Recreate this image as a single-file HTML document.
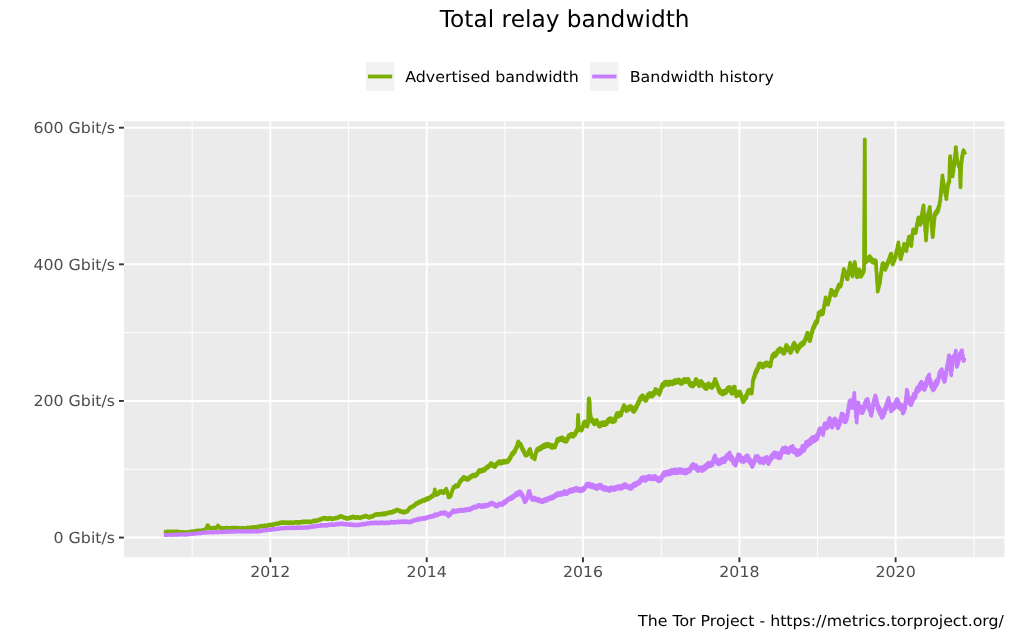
<!DOCTYPE html>
<html lang="en"><head><meta charset="utf-8"><title>Total relay bandwidth</title>
<style>html,body{margin:0;padding:0;background:#fff;overflow:hidden}svg{display:block}text{font-family:"DejaVu Sans","Liberation Sans",sans-serif;text-rendering:geometricPrecision}</style></head><body>
<svg width="1024" height="640" viewBox="0 0 1024 640">
<rect width="1024" height="640" fill="#ffffff"/>
<text x="564.7" y="27" font-size="23.47" text-anchor="middle" textLength="249.7" lengthAdjust="spacingAndGlyphs" fill="#000">Total relay bandwidth</text>
<rect x="365.8" y="62.1" width="28.6" height="28.8" fill="#f2f2f2"/>
<line x1="367.9" x2="392.2" y1="76.5" y2="76.5" stroke="#7cae00" stroke-width="3.8"/>
<text x="405.2" y="82" font-size="15.1" textLength="173.7" lengthAdjust="spacingAndGlyphs" fill="#000">Advertised bandwidth</text>
<rect x="590" y="62.1" width="28.6" height="28.8" fill="#f2f2f2"/>
<line x1="592.2" x2="616.5" y1="76.5" y2="76.5" stroke="#c77cff" stroke-width="3.8"/>
<text x="629.7" y="82" font-size="15.1" textLength="144.3" lengthAdjust="spacingAndGlyphs" fill="#000">Bandwidth history</text>
<rect x="123.9" y="121.2" width="880.6" height="436.1" fill="#ebebeb"/>
<g stroke="#ffffff" stroke-width="0.95">
<line x1="123.9" x2="1004.5" y1="469.24" y2="469.24"/>
<line x1="123.9" x2="1004.5" y1="332.62" y2="332.62"/>
<line x1="123.9" x2="1004.5" y1="196.01" y2="196.01"/>
<line y1="121.2" y2="557.3" x1="192.19" x2="192.19"/>
<line y1="121.2" y2="557.3" x1="348.62" x2="348.62"/>
<line y1="121.2" y2="557.3" x1="504.84" x2="504.84"/>
<line y1="121.2" y2="557.3" x1="661.28" x2="661.28"/>
<line y1="121.2" y2="557.3" x1="817.50" x2="817.50"/>
<line y1="121.2" y2="557.3" x1="973.93" x2="973.93"/>
</g><g stroke="#ffffff" stroke-width="1.9">
<line x1="123.9" x2="1004.5" y1="537.55" y2="537.55"/>
<line x1="123.9" x2="1004.5" y1="400.93" y2="400.93"/>
<line x1="123.9" x2="1004.5" y1="264.32" y2="264.32"/>
<line x1="123.9" x2="1004.5" y1="127.70" y2="127.70"/>
<line y1="121.2" y2="557.3" x1="270.30" x2="270.30"/>
<line y1="121.2" y2="557.3" x1="426.73" x2="426.73"/>
<line y1="121.2" y2="557.3" x1="582.95" x2="582.95"/>
<line y1="121.2" y2="557.3" x1="739.39" x2="739.39"/>
<line y1="121.2" y2="557.3" x1="895.61" x2="895.61"/>
</g>
<g fill="none" stroke-width="3.8" stroke-linejoin="round" stroke-linecap="butt">
<polyline stroke="#7cae00" points="163.8,531.9 163.8,531.9 164.1,531.9 164.4,531.9 164.8,531.9 165.1,531.9 165.5,531.8 165.8,532.1 166.2,531.6 166.5,532.0 166.9,531.5 167.2,532.1 167.6,531.6 167.9,532.2 168.3,531.7 168.6,532.2 169.0,531.6 169.3,532.0 169.7,531.5 170.0,532.0 170.4,531.6 170.7,532.2 171.1,531.6 171.4,532.2 171.8,531.7 172.1,532.3 172.5,531.6 172.8,532.1 173.2,531.7 173.5,532.2 173.9,531.6 174.2,532.2 174.6,531.7 174.9,532.2 175.3,531.6 175.6,531.9 175.6,532.1 176.0,531.6 176.3,532.2 176.7,531.6 177.0,532.1 177.4,531.6 177.7,532.3 178.1,531.7 178.4,532.3 178.8,531.8 179.1,532.4 179.5,532.0 179.8,532.6 180.2,532.1 180.5,532.6 180.9,532.1 181.2,532.5 181.6,532.0 181.9,532.5 182.3,532.1 182.6,532.6 183.0,532.2 183.3,532.7 183.7,532.2 184.0,532.7 184.4,532.1 184.7,532.6 185.1,532.2 185.4,532.8 185.8,532.4 185.8,532.5 186.1,532.8 186.5,532.3 186.8,532.8 187.2,532.2 187.5,532.7 187.9,532.0 188.2,532.5 188.6,531.9 188.9,532.3 189.3,531.7 189.6,532.2 190.0,531.7 190.3,532.3 190.7,531.7 191.0,532.2 191.4,531.5 191.7,532.1 192.1,531.4 192.4,532.0 192.8,531.4 192.8,531.6 193.1,531.9 193.5,531.3 193.8,531.9 194.2,531.2 194.5,531.7 194.9,531.0 195.2,531.4 195.6,530.8 195.9,531.4 196.3,530.8 196.6,531.2 197.0,530.7 197.3,531.2 197.7,530.6 198.0,531.0 198.4,530.5 198.7,531.0 199.1,530.5 199.4,531.1 199.8,530.5 200.1,531.1 200.5,530.5 200.8,530.9 201.2,530.4 201.5,531.0 201.9,530.2 202.2,530.7 202.6,530.1 202.9,530.6 203.3,530.0 203.6,530.5 203.8,530.3 204.0,529.9 204.3,530.3 204.7,529.4 205.0,529.8 205.4,529.0 205.7,529.3 206.1,528.6 206.4,528.8 206.5,528.5 206.8,527.4 207.1,527.0 207.5,525.3 207.7,525.2 207.8,525.7 208.2,525.6 208.5,526.8 208.9,526.9 209.0,527.5 209.2,527.9 209.6,527.6 209.9,528.6 210.0,528.3 210.3,528.2 210.6,528.7 211.0,528.0 211.3,528.5 211.7,527.9 212.0,528.5 212.4,527.8 212.7,528.4 213.1,527.9 213.4,528.3 213.8,527.8 214.1,528.3 214.5,527.8 214.8,528.3 215.2,527.7 215.5,528.4 215.9,527.9 216.2,528.3 216.5,528.0 216.6,527.5 216.9,527.7 217.3,526.6 217.6,526.6 218.0,525.5 218.0,526.0 218.3,526.6 218.7,526.5 219.0,527.6 219.4,527.3 219.5,527.8 219.7,528.0 220.1,527.5 220.4,528.1 220.8,527.5 221.1,528.2 221.5,527.9 221.8,528.5 222.2,528.2 222.5,528.3 222.5,528.8 222.9,528.1 223.2,528.7 223.6,528.0 223.9,528.6 224.3,528.0 224.6,528.5 225.0,527.9 225.3,528.5 225.7,527.9 226.0,528.3 226.4,527.8 226.7,528.3 227.1,527.8 227.4,528.5 227.8,528.0 228.1,528.5 228.5,527.9 228.8,528.5 229.2,528.0 229.5,528.6 229.9,527.9 230.2,528.5 230.6,527.9 230.9,528.4 231.3,527.7 231.6,528.4 232.0,527.7 232.3,528.4 232.7,527.9 233.0,528.4 233.4,527.7 233.7,528.4 234.1,527.6 234.4,528.3 234.8,527.7 235.0,528.0 235.1,528.4 235.5,527.9 235.8,528.6 236.2,527.9 236.5,528.6 236.9,527.8 237.2,528.5 237.6,527.8 237.9,528.4 238.3,528.0 238.6,528.4 239.0,527.9 239.3,528.5 239.7,528.0 240.0,528.7 240.4,528.2 240.7,528.6 241.1,528.0 241.4,528.4 241.8,527.8 242.1,528.5 242.5,528.0 242.8,528.3 242.8,528.7 243.2,528.1 243.5,528.8 243.9,528.0 244.2,528.6 244.6,528.0 244.9,528.6 245.3,528.0 245.6,528.5 246.0,527.9 246.3,528.4 246.7,527.8 247.0,528.4 247.4,527.7 247.7,528.2 248.1,527.6 248.4,528.3 248.8,527.7 249.1,528.3 249.5,527.6 249.8,528.2 250.2,527.6 250.5,528.2 250.9,527.4 251.2,527.9 251.6,527.2 251.9,527.8 252.3,527.1 252.6,527.8 253.0,527.1 253.3,527.8 253.7,527.2 253.8,527.5 254.0,527.7 254.4,527.1 254.7,527.6 255.1,526.9 255.4,527.5 255.8,526.9 256.1,527.6 256.5,527.0 256.8,527.6 257.2,526.8 257.5,527.2 257.9,526.5 258.2,527.0 258.6,526.4 258.9,526.9 259.3,526.3 259.6,526.9 260.0,526.1 260.3,526.6 260.7,526.0 261.0,526.5 261.4,525.8 261.7,526.5 262.1,525.8 262.4,526.5 262.8,525.9 263.1,526.4 263.5,525.7 263.8,526.3 264.2,525.6 264.5,526.3 264.9,525.5 265.2,526.2 265.6,525.4 265.9,526.1 266.3,525.4 266.6,526.0 267.0,525.5 267.3,526.0 267.7,525.3 268.0,525.9 268.4,525.1 268.7,525.6 269.1,524.8 269.4,525.2 269.4,525.5 269.8,524.7 270.1,525.3 270.5,524.7 270.8,525.3 271.2,524.7 271.5,525.3 271.9,524.6 272.2,525.2 272.6,524.3 272.9,524.9 273.3,524.2 273.6,524.7 274.0,524.0 274.3,524.7 274.7,524.0 275.0,524.4 275.4,523.7 275.7,524.2 276.1,523.5 276.4,524.0 276.8,523.4 277.1,524.0 277.5,523.3 277.8,523.9 278.2,523.2 278.5,523.8 278.9,523.1 279.2,523.7 279.6,522.9 279.9,523.4 280.3,522.6 280.6,523.2 281.0,522.5 281.3,523.0 281.7,522.2 281.9,522.8 282.0,523.0 282.4,522.2 282.7,523.0 283.1,522.1 283.4,523.0 283.8,522.2 284.1,522.9 284.5,522.3 284.8,523.1 285.2,522.4 285.5,523.1 285.9,522.4 286.2,523.0 286.6,522.2 286.9,522.9 287.3,522.4 287.6,523.1 288.0,522.5 288.3,523.2 288.7,522.4 289.0,523.1 289.4,522.2 289.7,522.9 290.1,522.3 290.4,523.0 290.8,522.3 291.1,523.1 291.5,522.3 291.8,523.1 292.2,522.4 292.5,523.1 292.8,522.8 292.9,522.5 293.2,523.0 293.6,522.3 293.9,522.8 294.3,522.1 294.6,522.7 295.0,522.2 295.3,522.9 295.7,522.1 296.0,522.8 296.4,522.1 296.7,522.6 297.1,521.9 297.4,522.7 297.8,522.1 298.1,522.8 298.5,522.3 298.8,523.0 299.2,522.2 299.5,522.8 299.9,522.1 300.2,522.6 300.6,521.9 300.9,522.5 301.3,521.9 301.6,522.5 302.0,521.6 302.3,522.3 302.7,521.5 303.0,522.2 303.4,521.4 303.7,522.3 304.1,521.4 304.4,522.1 304.8,521.5 305.1,522.2 305.5,521.4 305.8,522.1 306.2,521.5 306.5,522.1 306.9,521.6 307.2,522.2 307.6,521.6 307.9,522.3 308.3,521.4 308.4,521.7 308.6,522.2 309.0,521.4 309.3,522.1 309.7,521.5 310.0,521.9 310.0,522.3 310.4,521.5 310.7,522.1 311.1,521.5 311.4,522.0 311.8,521.3 312.1,521.9 312.5,521.2 312.8,521.6 313.2,520.8 313.5,521.4 313.9,520.5 314.2,521.3 314.6,520.5 314.9,521.2 315.3,520.5 315.6,521.2 316.0,520.4 316.3,521.2 316.7,520.4 317.0,521.0 317.4,520.1 317.7,520.6 318.1,519.8 318.4,520.4 318.8,519.7 319.1,520.4 319.4,520.0 319.5,519.5 319.8,520.3 320.2,519.2 320.5,519.8 320.9,519.0 321.2,519.4 321.6,518.5 321.9,519.3 322.3,518.2 322.6,519.0 323.0,518.0 323.3,518.8 323.7,517.9 324.0,518.4 324.0,518.5 324.4,517.8 324.7,518.6 325.1,517.9 325.4,518.7 325.8,518.1 326.1,519.0 326.5,518.3 326.8,519.2 327.2,518.4 327.5,519.1 327.9,518.3 328.2,519.1 328.6,518.2 328.9,518.9 329.3,518.1 329.6,518.9 330.0,518.1 330.3,518.8 330.7,518.1 331.0,519.0 331.4,518.4 331.7,519.3 332.1,518.4 332.4,519.2 332.8,518.4 333.1,519.1 333.4,518.8 333.5,518.3 333.8,518.9 334.2,518.2 334.5,518.7 334.9,517.9 335.2,518.6 335.6,517.7 335.9,518.6 336.3,517.8 336.6,518.4 337.0,517.5 337.3,518.3 337.7,517.3 338.0,518.0 338.4,517.0 338.7,517.5 339.1,516.6 339.4,517.1 339.8,516.3 340.1,517.0 340.5,516.1 340.8,516.8 341.2,516.0 341.2,516.4 341.5,516.9 341.9,516.3 342.2,517.3 342.6,516.6 342.9,517.5 343.3,517.0 343.6,517.9 344.0,517.2 344.3,518.1 344.7,517.4 345.0,518.2 345.4,517.4 345.7,518.5 346.1,517.8 346.4,518.9 346.8,518.1 347.1,519.0 347.5,518.4 347.5,518.8 347.8,518.8 348.2,518.0 348.5,518.6 348.9,517.7 349.2,518.5 349.6,517.5 349.9,518.3 350.3,517.3 350.6,518.2 351.0,517.3 351.3,518.0 351.7,517.0 352.0,517.5 352.2,517.2 352.4,516.7 352.7,517.4 353.1,516.6 353.4,517.5 353.8,516.8 354.1,517.6 354.5,517.0 354.8,517.9 355.2,517.2 355.5,518.1 355.9,517.3 356.2,518.0 356.6,517.1 356.9,517.9 357.3,517.0 357.6,517.8 358.0,517.1 358.3,517.9 358.7,517.1 359.0,518.1 359.4,517.4 359.7,518.1 360.0,518.0 360.1,517.4 360.4,518.2 360.8,517.3 361.1,517.9 361.5,516.9 361.8,517.6 362.2,516.6 362.5,517.4 362.9,516.6 363.2,517.1 363.6,516.2 363.9,517.1 364.3,516.1 364.6,516.9 365.0,515.9 365.3,516.4 365.5,516.0 365.7,515.5 366.0,516.4 366.4,515.7 366.7,516.7 367.1,516.1 367.4,517.1 367.8,516.4 368.1,517.4 368.5,516.8 368.8,517.8 369.2,517.1 369.4,517.5 369.5,517.8 369.9,516.8 370.2,517.4 370.6,516.3 370.9,517.1 371.3,516.3 371.6,516.9 372.0,516.2 372.3,516.8 372.7,515.9 373.0,516.4 373.4,515.6 373.7,516.2 374.1,515.0 374.4,515.6 374.8,514.6 375.1,515.1 375.5,514.1 375.6,514.8 375.8,515.0 376.2,514.1 376.5,514.9 376.9,514.0 377.2,514.9 377.6,514.1 377.9,515.1 378.3,514.2 378.6,514.9 379.0,513.9 379.3,514.7 379.7,513.9 380.0,514.6 380.4,513.8 380.7,514.5 381.1,513.6 381.4,514.5 381.8,513.7 382.1,514.7 382.5,513.8 382.8,514.6 383.2,513.5 383.5,514.3 383.9,513.2 384.2,513.9 384.6,513.1 384.9,514.2 385.3,513.4 385.6,514.4 386.0,513.4 386.3,514.1 386.7,513.0 387.0,513.6 387.4,512.7 387.7,513.4 388.1,512.5 388.1,513.3 388.4,513.3 388.8,512.3 389.1,513.1 389.5,512.2 389.8,512.9 390.2,512.1 390.5,512.8 390.9,512.0 391.2,512.8 391.6,512.0 391.9,512.7 392.3,511.7 392.6,512.4 393.0,511.3 393.3,512.0 393.7,511.1 394.0,511.9 394.4,510.9 394.7,511.7 395.1,510.5 395.4,511.2 395.8,510.2 396.1,510.8 396.5,509.8 396.8,510.7 397.2,509.7 397.5,510.2 397.5,510.5 397.9,509.8 398.2,510.8 398.6,510.0 398.9,511.1 399.3,510.3 399.6,511.5 400.0,510.5 400.3,511.7 400.7,511.1 401.0,512.0 401.4,511.0 401.7,512.1 402.1,511.2 402.4,512.3 402.8,511.5 403.1,512.6 403.5,511.8 403.8,512.2 403.8,512.9 404.2,511.8 404.5,512.6 404.9,511.6 405.2,512.3 405.6,511.3 405.9,512.2 406.3,511.1 406.6,511.7 407.0,510.8 407.3,511.6 407.7,510.5 407.7,511.2 408.0,511.0 408.4,509.6 408.7,509.9 409.1,508.6 409.4,509.0 409.8,507.6 410.0,507.8 410.1,508.2 410.5,507.1 410.8,508.0 411.2,506.8 411.5,507.6 411.9,506.4 412.2,507.2 412.6,506.1 412.9,506.8 413.3,505.6 413.6,506.5 414.0,505.2 414.3,506.0 414.7,504.6 415.0,505.3 415.4,504.0 415.7,504.6 416.1,503.3 416.4,504.3 416.8,503.0 417.1,503.9 417.5,502.7 417.8,503.7 418.2,502.4 418.5,503.2 418.9,501.8 419.2,502.8 419.4,502.1 419.6,501.6 419.9,502.6 420.3,501.3 420.6,502.2 421.0,500.9 421.3,502.0 421.7,500.6 422.0,501.6 422.4,500.3 422.7,501.3 423.1,499.9 423.4,500.8 423.8,499.6 424.1,500.7 424.5,499.6 424.8,500.9 425.0,500.0 425.2,499.4 425.5,500.1 425.9,498.7 426.2,499.6 426.6,498.6 426.9,499.7 427.3,498.3 427.5,498.8 427.6,499.6 428.0,498.2 428.3,499.3 428.7,497.9 429.0,498.9 429.4,497.6 429.7,498.4 430.0,497.5 430.1,497.0 430.4,498.0 430.8,496.7 431.1,497.4 431.5,496.2 431.8,497.1 432.2,495.5 432.5,496.7 432.9,495.2 433.1,495.6 433.2,496.2 433.6,494.4 433.9,495.2 434.2,494.0 434.3,492.7 434.6,491.0 434.8,489.4 435.0,490.9 435.3,494.0 435.3,494.5 435.7,493.7 436.0,494.4 436.0,495.1 436.4,493.8 436.7,494.9 437.1,493.3 437.4,494.5 437.8,492.9 438.1,494.2 438.5,492.6 438.8,493.6 439.2,491.9 439.5,492.8 439.9,491.2 440.2,492.4 440.6,491.0 440.6,491.9 440.9,492.3 441.3,491.1 441.6,492.5 442.0,491.3 442.3,492.6 442.7,491.5 443.0,492.8 443.4,491.5 443.7,493.1 443.8,492.5 444.1,491.4 444.4,492.2 444.8,490.4 445.1,491.4 445.5,489.6 445.8,490.5 446.2,488.7 446.2,489.4 446.5,490.8 446.9,490.4 447.2,492.4 447.6,492.5 447.9,495.1 448.3,495.0 448.6,497.4 448.8,496.9 449.0,496.4 449.3,497.2 449.7,496.0 450.0,496.9 450.4,495.4 450.6,496.2 450.7,496.2 451.1,493.9 451.4,494.0 451.8,491.7 452.1,491.7 452.5,489.4 452.8,489.5 453.1,488.1 453.2,487.4 453.5,488.4 453.9,486.7 454.2,487.8 454.6,486.1 454.9,487.1 455.3,485.7 455.6,486.2 455.6,486.8 456.0,485.3 456.3,486.7 456.7,485.4 457.0,486.7 457.4,485.3 457.7,486.5 458.1,485.2 458.1,486.2 458.4,485.7 458.8,483.4 459.1,484.2 459.5,482.0 459.8,482.8 460.2,480.7 460.5,481.4 460.6,480.6 460.9,479.8 461.2,481.1 461.6,479.1 461.9,480.4 462.3,478.7 462.6,479.7 463.0,477.6 463.3,479.1 463.7,476.9 463.8,478.1 464.0,478.4 464.4,477.1 464.7,478.9 465.1,477.5 465.4,479.1 465.8,477.7 466.1,479.5 466.5,477.9 466.8,479.7 467.2,478.3 467.5,479.4 467.5,480.0 467.9,478.4 468.2,479.8 468.6,478.1 468.9,479.1 469.3,477.2 469.6,478.2 470.0,476.5 470.3,477.7 470.7,476.2 471.0,477.6 471.4,475.7 471.7,477.0 472.1,475.3 472.4,476.6 472.5,475.6 472.8,474.9 473.1,476.5 473.5,474.8 473.8,476.3 474.2,474.8 474.5,476.3 474.9,474.7 475.2,476.1 475.6,474.6 475.6,475.6 475.9,475.8 476.3,473.9 476.6,475.4 477.0,473.4 477.3,474.7 477.7,472.3 478.0,473.5 478.4,471.2 478.7,472.1 478.8,471.2 479.1,470.2 479.4,471.8 479.8,470.1 480.1,471.9 480.5,470.1 480.8,471.8 481.2,469.9 481.5,471.3 481.9,469.7 482.2,471.1 482.6,469.5 482.9,471.1 483.3,469.1 483.6,471.0 484.0,469.0 484.3,470.7 484.7,468.7 485.0,469.4 485.0,470.2 485.4,468.1 485.7,469.2 486.1,467.3 486.4,468.5 486.8,466.6 487.1,468.2 487.5,466.3 487.8,467.9 488.2,465.8 488.5,467.3 488.9,465.4 489.2,466.6 489.6,464.7 489.9,465.8 490.3,464.0 490.6,465.3 491.0,463.0 491.2,464.4 491.3,464.8 491.7,463.4 492.0,465.6 492.4,463.9 492.7,465.9 493.1,464.6 493.4,466.4 493.8,464.7 494.1,466.9 494.4,466.5 494.5,465.5 494.8,467.1 495.2,465.5 495.5,466.5 495.9,464.5 496.2,465.7 496.6,463.3 496.9,464.6 497.3,462.8 497.6,463.9 498.0,462.1 498.3,463.5 498.7,461.3 498.8,462.5 499.0,463.1 499.4,461.4 499.7,463.5 500.1,461.4 500.4,463.6 500.8,461.5 501.1,463.5 501.5,461.9 501.8,463.3 502.2,461.3 502.5,463.1 502.9,461.0 503.2,462.8 503.6,460.9 503.8,462.5 503.9,462.8 504.3,460.7 504.6,462.6 505.0,461.0 505.3,462.7 505.7,461.0 506.0,462.6 506.4,460.7 506.7,462.3 507.1,460.7 507.4,462.3 507.8,460.2 508.1,460.6 508.1,461.7 508.5,459.2 508.8,460.6 509.2,458.5 509.5,460.0 509.9,457.2 510.2,459.1 510.6,456.3 510.9,457.4 511.3,454.7 511.6,455.8 512.0,453.1 512.3,454.9 512.7,452.6 513.0,454.3 513.1,453.1 513.4,451.9 513.7,453.5 514.1,450.9 514.4,452.9 514.8,450.1 515.1,451.5 515.5,448.7 515.8,449.6 516.2,447.0 516.5,448.3 516.9,445.8 516.9,447.5 517.2,446.7 517.6,443.1 517.9,444.0 518.1,442.5 518.3,441.3 518.6,443.8 519.0,442.5 519.3,444.7 519.7,443.1 520.0,444.4 520.0,445.2 520.4,443.7 520.7,446.4 521.1,444.9 521.4,447.8 521.8,446.2 521.9,447.5 522.1,449.4 522.5,448.3 522.8,450.9 523.2,449.2 523.5,452.1 523.9,450.4 524.2,453.3 524.6,452.5 524.9,455.1 525.0,455.0 525.3,453.4 525.6,455.5 526.0,453.6 526.3,455.4 526.7,453.7 527.0,455.5 527.4,453.2 527.5,453.8 527.7,454.7 528.1,452.3 528.4,453.5 528.8,450.6 529.1,452.5 529.5,449.4 529.8,451.1 530.0,448.8 530.2,449.3 530.5,452.8 530.9,452.0 531.2,455.2 531.6,454.2 531.9,456.2 531.9,457.4 532.3,455.6 532.6,457.6 533.0,455.6 533.3,458.0 533.7,456.2 534.0,458.4 534.4,456.9 534.7,459.3 534.8,458.8 535.1,456.0 535.4,456.0 535.8,452.6 536.1,453.6 536.5,450.3 536.8,451.0 536.9,450.0 537.2,448.9 537.5,451.0 537.9,448.7 538.2,450.4 538.6,448.3 538.9,450.2 539.3,447.7 539.6,449.9 540.0,447.2 540.0,448.1 540.3,449.1 540.7,446.9 541.0,449.0 541.4,446.5 541.7,448.7 542.1,446.0 542.4,448.0 542.8,445.6 543.1,447.0 543.5,444.9 543.8,447.0 544.2,445.3 544.5,447.2 544.9,444.9 545.0,445.6 545.2,447.0 545.6,444.2 545.9,446.3 546.3,443.9 546.6,446.1 547.0,443.8 547.3,445.7 547.7,443.6 548.0,446.3 548.4,444.0 548.7,446.2 549.1,444.2 549.4,446.3 549.8,444.6 550.0,445.6 550.1,446.9 550.5,444.7 550.8,447.2 551.2,445.1 551.5,447.7 551.9,445.5 552.2,448.0 552.6,445.9 552.9,447.7 553.3,445.2 553.6,446.8 554.0,444.9 554.3,447.0 554.7,445.4 555.0,446.9 555.0,447.6 555.4,444.7 555.7,445.5 556.1,442.7 556.4,444.0 556.8,440.5 557.1,441.9 557.5,438.8 557.5,440.6 557.8,441.2 558.2,438.9 558.5,441.0 558.9,438.6 559.2,440.4 559.6,438.1 559.9,440.1 560.3,437.8 560.6,440.2 561.0,437.9 561.2,438.8 561.3,440.2 561.7,437.5 562.0,440.1 562.4,437.5 562.7,439.7 563.1,438.1 563.4,440.6 563.8,438.6 564.1,441.3 564.5,439.1 564.8,441.6 565.2,439.1 565.5,441.6 565.9,439.5 566.2,441.9 566.2,440.0 566.6,438.9 566.9,441.2 567.3,438.4 567.6,439.6 568.0,436.8 568.3,438.3 568.7,435.1 569.0,437.4 569.4,434.6 569.7,436.9 570.0,435.6 570.1,434.7 570.4,436.5 570.8,434.3 571.1,436.2 571.5,433.6 571.8,436.2 572.2,433.9 572.5,436.6 572.9,434.7 573.2,436.9 573.6,434.3 573.9,436.1 574.3,433.7 574.6,435.5 575.0,432.8 575.0,435.0 575.3,434.5 575.7,431.4 576.0,433.3 576.4,430.1 576.7,432.3 576.9,431.2 577.1,428.9 577.4,430.2 577.6,429.0 577.8,421.8 578.1,415.0 578.1,417.5 578.5,422.3 578.7,428.0 578.8,429.4 579.2,426.8 579.4,428.8 579.5,429.7 579.9,427.3 580.2,430.3 580.6,428.0 580.9,430.5 581.3,428.1 581.6,430.7 581.9,430.0 582.0,427.6 582.3,429.1 582.7,426.0 583.0,427.4 583.4,423.6 583.7,425.6 584.1,421.9 584.4,423.1 584.4,424.1 584.8,421.5 585.1,424.2 585.5,422.4 585.8,425.3 586.2,423.1 586.5,426.4 586.9,423.8 587.2,426.6 587.5,425.0 587.6,423.7 587.9,424.4 588.2,423.0 588.3,416.5 588.6,402.7 588.7,399.6 589.0,398.4 589.3,401.9 589.5,400.5 589.7,403.2 590.0,413.1 590.2,414.0 590.4,414.1 590.7,418.3 591.1,417.4 591.2,420.0 591.4,421.1 591.8,418.6 592.1,421.8 592.5,419.6 592.8,422.4 593.2,420.2 593.5,423.2 593.9,421.2 594.2,424.3 594.4,424.4 594.6,421.8 594.9,423.9 595.3,420.6 595.6,422.8 596.0,420.3 596.3,422.6 596.5,421.2 596.7,419.8 597.0,423.0 597.4,421.4 597.7,424.1 598.1,422.5 598.4,425.3 598.8,423.2 599.1,426.7 599.4,425.0 599.5,424.1 599.8,426.6 600.2,423.7 600.5,426.2 600.9,423.4 601.2,425.5 601.6,422.5 601.9,425.1 602.3,422.5 602.6,424.9 603.0,422.2 603.3,424.9 603.7,422.5 604.0,425.2 604.4,422.7 604.7,424.9 605.0,423.1 605.1,422.2 605.4,425.0 605.8,422.0 606.1,424.4 606.5,421.5 606.8,423.9 607.2,420.8 607.5,422.6 607.9,419.7 608.2,422.2 608.6,419.1 608.9,421.4 609.3,418.5 609.6,421.0 610.0,418.4 610.3,420.5 610.7,418.2 611.0,420.5 611.2,420.0 611.4,418.5 611.7,421.7 612.1,419.3 612.4,422.3 612.8,419.8 613.1,422.1 613.5,419.3 613.8,421.7 614.2,419.7 614.4,421.2 614.5,421.7 614.9,418.3 615.2,420.7 615.6,416.4 615.9,418.3 616.3,414.5 616.6,416.4 616.9,415.0 617.0,413.0 617.3,416.1 617.7,413.6 618.0,416.8 618.4,414.2 618.7,416.4 619.1,413.4 619.4,415.9 619.8,412.5 620.1,415.4 620.5,412.7 620.8,415.5 621.2,412.4 621.2,413.8 621.5,414.1 621.9,410.1 622.2,411.8 622.6,408.2 622.9,409.6 623.3,406.1 623.6,407.5 623.8,406.2 624.0,405.0 624.3,408.7 624.7,406.2 625.0,409.5 625.4,406.9 625.7,410.1 626.1,407.7 626.2,410.6 626.4,411.2 626.8,408.3 627.1,410.5 627.5,408.0 627.8,410.5 628.2,407.4 628.5,409.8 628.9,407.0 629.2,408.9 629.6,406.1 629.9,408.2 630.0,407.5 630.3,406.0 630.6,408.8 631.0,406.4 631.3,409.2 631.7,406.6 632.0,409.8 632.4,407.5 632.7,411.0 633.1,408.5 633.4,411.9 633.8,410.6 633.8,409.5 634.1,411.8 634.5,408.2 634.8,410.9 635.2,407.3 635.5,409.8 635.9,406.4 636.2,408.5 636.6,405.1 636.9,407.2 637.3,404.0 637.5,404.4 637.6,405.4 638.0,402.0 638.3,404.3 638.7,401.1 639.0,402.9 639.4,399.2 639.7,401.3 640.0,399.4 640.1,397.5 640.4,399.8 640.8,397.1 641.1,399.6 641.5,396.1 641.8,398.7 642.2,395.4 642.5,397.5 642.5,398.4 642.9,395.3 643.2,398.9 643.6,396.3 643.9,398.8 644.3,397.2 644.6,399.8 645.0,397.6 645.3,400.8 645.6,399.4 645.7,398.2 646.0,400.8 646.4,397.5 646.7,399.7 647.1,396.4 647.4,398.1 647.8,394.5 648.1,396.9 648.5,393.9 648.8,396.0 649.2,393.1 649.4,394.4 649.5,395.2 649.9,392.8 650.2,396.2 650.6,393.7 650.9,396.7 651.3,394.1 651.6,396.4 652.0,393.4 652.3,396.7 652.5,395.6 652.7,393.1 653.0,395.7 653.4,392.2 653.7,394.9 654.1,391.9 654.4,394.2 654.8,390.6 655.1,392.7 655.5,388.8 655.6,390.0 655.8,392.0 656.2,389.4 656.5,392.0 656.9,390.0 657.2,392.7 657.6,390.3 657.9,393.5 658.3,390.5 658.6,393.6 659.0,391.2 659.3,394.8 659.4,392.5 659.7,390.9 660.0,393.0 660.4,390.0 660.7,391.0 661.1,387.7 661.4,388.9 661.8,385.6 662.1,387.4 662.5,383.8 662.5,385.0 662.8,386.7 663.2,384.1 663.5,386.3 663.9,383.0 664.2,385.1 664.6,382.0 664.9,384.9 665.3,381.6 665.6,384.7 666.0,381.6 666.2,382.5 666.3,384.2 666.7,382.0 667.0,384.4 667.4,381.8 667.7,384.8 668.1,381.9 668.4,385.1 668.8,381.7 669.1,384.4 669.5,381.5 669.8,384.4 670.2,381.7 670.5,383.9 670.9,381.6 671.2,384.2 671.2,383.1 671.6,381.9 671.9,384.1 672.3,381.9 672.6,384.3 673.0,381.1 673.3,383.9 673.7,380.9 674.0,383.4 674.4,380.8 674.7,383.1 675.1,380.0 675.4,383.2 675.8,380.6 676.1,382.8 676.5,380.5 676.8,382.7 677.2,380.3 677.5,381.2 677.5,382.3 677.9,379.7 678.2,381.8 678.6,379.4 678.9,382.2 679.3,380.0 679.6,382.9 680.0,380.4 680.3,383.5 680.7,380.9 681.0,384.0 681.4,381.4 681.7,383.6 682.1,381.0 682.4,383.5 682.5,381.9 682.8,379.9 683.1,382.9 683.5,379.8 683.8,382.4 684.2,378.8 684.5,381.6 684.9,379.2 685.2,381.8 685.6,379.2 685.9,381.7 686.3,379.3 686.6,382.1 687.0,379.1 687.3,382.2 687.7,378.9 688.0,381.5 688.1,379.4 688.4,379.1 688.7,382.6 689.1,380.7 689.4,384.3 689.8,382.2 690.1,385.3 690.5,383.3 690.6,384.4 690.8,386.0 691.2,383.0 691.5,385.7 691.9,383.4 692.2,386.3 692.5,386.2 692.6,383.8 692.9,386.5 693.3,383.2 693.6,385.7 694.0,382.6 694.3,384.6 694.7,382.2 695.0,384.0 695.4,379.6 695.6,380.6 695.7,381.8 696.1,378.8 696.4,382.3 696.8,379.9 697.1,383.1 697.5,380.9 697.8,384.0 698.2,382.3 698.5,385.1 698.9,383.4 699.2,386.4 699.4,384.4 699.6,383.1 699.9,385.0 700.3,381.5 700.6,383.5 701.0,380.9 701.2,382.5 701.3,383.5 701.7,381.8 702.0,384.8 702.4,382.7 702.7,385.7 703.1,383.5 703.4,386.5 703.8,384.7 704.1,387.4 704.5,384.7 704.8,388.2 705.2,385.7 705.5,388.7 705.6,388.1 705.9,386.1 706.2,389.2 706.6,385.9 706.9,388.5 707.3,384.7 707.6,387.1 708.0,383.4 708.1,385.0 708.3,385.8 708.7,383.4 709.0,386.6 709.4,384.0 709.7,387.1 710.1,384.3 710.4,387.4 710.8,384.6 711.1,387.6 711.5,385.3 711.8,388.1 712.2,384.9 712.5,386.2 712.5,387.5 712.9,384.1 713.2,386.4 713.6,382.9 713.9,384.3 714.3,381.0 714.6,382.5 715.0,378.8 715.0,380.6 715.3,382.3 715.7,379.9 716.0,383.3 716.4,382.0 716.7,385.4 717.1,383.6 717.4,386.9 717.5,386.2 717.8,385.5 718.1,389.1 718.5,387.5 718.8,391.1 719.2,388.5 719.5,392.5 719.9,390.0 720.0,391.9 720.2,393.0 720.6,390.4 720.9,393.3 721.3,391.0 721.6,393.9 722.0,391.1 722.3,394.3 722.7,391.7 723.0,394.5 723.4,391.3 723.7,393.7 724.1,391.0 724.4,393.5 724.8,390.3 725.0,392.5 725.1,393.2 725.5,390.4 725.8,393.2 726.2,390.2 726.5,392.2 726.9,389.4 727.2,391.4 727.6,387.6 727.9,390.0 728.3,387.4 728.6,389.8 729.0,387.1 729.3,389.1 729.4,386.9 729.7,387.1 730.0,390.4 730.4,388.1 730.7,391.8 731.1,389.4 731.4,393.4 731.8,391.4 731.9,392.5 732.1,393.8 732.5,390.0 732.8,391.9 733.2,388.2 733.5,390.1 733.9,386.7 734.2,388.8 734.4,386.9 734.6,386.7 734.9,390.7 735.3,389.8 735.6,394.3 736.0,392.8 736.2,395.6 736.3,396.4 736.7,393.3 737.0,395.9 737.4,392.6 737.7,395.3 738.1,392.5 738.4,394.6 738.8,391.7 739.1,394.7 739.5,391.5 739.8,394.2 740.0,393.1 740.2,391.9 740.5,395.7 740.9,393.7 741.2,397.2 741.6,395.6 741.9,399.0 742.3,397.1 742.6,401.3 743.0,399.6 743.1,401.9 743.3,402.2 743.7,399.0 744.0,401.3 744.4,398.1 744.7,400.2 745.1,396.8 745.4,398.7 745.8,395.3 746.1,398.4 746.2,396.9 746.5,394.6 746.8,396.4 747.2,392.7 747.5,392.5 747.5,394.5 747.9,391.0 748.2,393.2 748.6,390.0 748.9,392.6 749.3,390.0 749.6,392.9 750.0,389.9 750.3,392.8 750.7,390.2 751.0,393.6 751.4,390.7 751.7,393.5 751.9,391.9 752.1,389.3 752.4,387.9 752.8,382.2 753.1,379.4 753.1,381.3 753.5,377.7 753.8,379.1 754.2,375.8 754.5,377.5 754.9,373.2 755.2,375.4 755.6,371.4 755.9,373.3 756.2,372.5 756.3,369.7 756.6,372.0 757.0,368.7 757.3,371.2 757.7,367.5 758.0,369.3 758.4,365.1 758.7,366.8 758.8,365.0 759.1,363.8 759.4,366.7 759.8,363.4 760.0,365.0 760.1,366.0 760.5,363.5 760.8,366.4 761.2,363.9 761.5,366.7 761.9,364.6 762.2,367.3 762.5,366.2 762.6,365.0 762.9,367.6 763.3,364.5 763.6,366.7 764.0,363.8 764.3,366.3 764.7,363.1 765.0,365.6 765.4,362.7 765.7,365.7 766.1,363.0 766.4,365.7 766.8,362.3 766.9,363.1 767.1,365.2 767.5,362.8 767.8,365.5 768.2,362.9 768.5,365.8 768.9,363.3 769.2,366.0 769.6,363.4 769.9,366.6 770.3,363.4 770.6,364.4 770.6,366.0 771.0,361.1 771.3,362.1 771.7,357.7 772.0,358.8 772.4,355.1 772.5,355.0 772.7,357.6 773.1,354.3 773.4,356.8 773.8,353.5 774.1,356.2 774.5,353.6 774.8,356.3 775.2,353.0 775.5,356.1 775.6,354.4 775.9,352.6 776.2,355.0 776.6,351.8 776.9,354.0 777.3,350.8 777.6,352.9 778.0,349.6 778.3,351.7 778.7,349.1 778.8,349.4 779.0,351.1 779.4,348.9 779.7,351.2 780.1,348.2 780.4,351.0 780.8,348.7 781.1,351.7 781.5,349.2 781.8,351.9 782.2,349.9 782.5,352.5 782.9,350.2 783.2,353.6 783.6,350.9 783.9,353.8 784.3,351.3 784.4,351.9 784.6,353.1 785.0,348.6 785.3,350.5 785.7,346.6 786.0,348.0 786.2,345.0 786.4,344.9 786.7,348.5 787.1,345.9 787.4,349.5 787.8,347.3 788.1,350.5 788.5,347.4 788.8,350.7 789.2,347.9 789.5,351.3 789.9,349.0 790.2,352.9 790.6,350.5 790.6,352.5 790.9,352.7 791.3,348.8 791.6,351.2 792.0,347.8 792.3,349.5 792.7,345.6 793.0,347.8 793.4,344.0 793.7,346.0 794.0,343.1 794.1,342.6 794.4,345.7 794.8,343.5 795.1,347.4 795.5,345.0 795.8,348.5 796.2,347.1 796.5,350.4 796.9,348.7 797.2,351.9 797.2,350.0 797.6,348.0 797.9,350.1 798.3,346.7 798.6,349.0 799.0,345.7 799.3,348.0 799.7,344.8 800.0,347.1 800.4,343.8 800.7,346.2 801.1,343.1 801.2,344.4 801.4,345.9 801.8,342.9 802.1,345.2 802.5,342.3 802.8,344.6 803.2,341.7 803.5,344.3 803.8,343.1 803.9,341.1 804.2,343.4 804.6,340.0 804.9,341.9 805.3,338.5 805.6,340.2 806.0,336.7 806.3,338.0 806.7,334.3 807.0,335.9 807.2,334.4 807.4,332.6 807.7,336.4 808.1,334.3 808.4,338.2 808.8,335.9 809.1,339.9 809.5,338.1 809.8,339.4 809.8,341.2 810.2,337.5 810.5,339.3 810.9,335.3 811.2,336.5 811.6,332.0 811.9,333.5 812.3,329.6 812.5,331.2 812.6,331.6 813.0,327.5 813.3,328.8 813.7,326.0 814.0,328.1 814.4,324.8 814.7,326.5 815.0,323.8 815.1,322.7 815.4,324.8 815.8,321.5 816.1,323.8 816.5,320.7 816.8,323.0 817.2,319.8 817.5,321.2 817.5,321.4 817.9,316.5 818.2,317.5 818.6,312.7 818.8,313.1 818.9,314.9 819.3,312.3 819.6,314.8 820.0,311.7 820.3,314.2 820.7,311.2 821.0,314.0 821.4,311.2 821.7,314.5 822.1,311.8 822.4,314.2 822.8,310.9 823.1,311.9 823.1,313.3 823.5,308.5 823.8,309.4 824.2,304.7 824.5,306.1 824.9,301.4 825.2,302.3 825.6,297.5 825.6,300.0 825.9,300.8 826.3,299.2 826.6,302.1 827.0,300.0 827.3,303.2 827.7,301.0 828.0,304.6 828.1,303.8 828.4,300.7 828.7,302.3 829.1,298.7 829.4,300.4 829.8,296.1 830.0,296.2 830.1,297.1 830.5,292.4 830.8,293.2 831.0,291.4 831.2,289.6 831.5,292.3 831.9,290.4 832.2,293.0 832.6,291.2 832.9,294.0 833.3,291.5 833.6,294.8 834.0,292.9 834.3,295.6 834.7,292.9 835.0,295.7 835.4,292.9 835.5,294.2 835.7,295.4 836.1,291.2 836.4,293.3 836.8,289.4 837.1,291.2 837.5,287.9 837.8,289.8 838.2,286.1 838.5,288.1 838.8,287.0 838.9,284.3 839.2,287.3 839.6,284.4 839.9,286.6 840.3,283.9 840.6,286.5 841.0,283.2 841.0,283.8 841.3,284.5 841.7,280.0 842.0,280.8 842.4,275.8 842.7,277.1 843.1,272.7 843.4,273.2 843.8,268.9 843.8,269.5 844.1,272.3 844.5,270.5 844.8,273.7 845.2,271.9 845.5,275.6 845.9,273.3 846.2,276.8 846.6,275.0 846.9,279.1 847.3,276.9 847.5,278.3 847.6,279.3 848.0,274.9 848.3,275.2 848.7,270.4 849.0,270.9 849.4,266.3 849.7,267.6 850.1,262.7 850.3,264.0 850.4,265.9 850.8,264.9 851.1,270.3 851.5,269.5 851.8,275.0 852.2,274.5 852.3,276.1 852.5,276.4 852.9,271.7 853.2,272.2 853.6,268.1 853.9,268.2 854.3,263.5 854.6,263.9 854.7,261.9 855.0,263.2 855.3,267.8 855.7,267.7 856.0,272.8 856.4,271.9 856.7,276.6 856.9,277.2 857.1,274.8 857.4,277.0 857.8,272.9 858.1,275.0 858.5,271.3 858.8,272.8 859.1,269.5 859.2,269.6 859.5,273.2 859.9,271.9 860.2,275.4 860.6,273.3 860.9,276.8 861.0,276.1 861.3,273.2 861.6,275.9 862.0,272.5 862.3,274.5 862.7,271.3 863.0,273.5 863.2,272.8 863.4,270.0 863.7,271.8 864.0,270.0 864.1,251.7 864.4,198.3 864.8,139.4 864.8,140.7 865.1,248.2 865.2,262.0 865.5,260.2 865.8,262.6 866.1,259.7 866.2,259.1 866.5,261.4 866.9,258.6 867.2,261.3 867.6,257.8 867.9,260.3 868.3,257.4 868.6,259.3 869.0,256.6 869.3,258.6 869.4,257.5 869.7,256.1 870.0,259.4 870.4,257.1 870.7,260.5 871.1,257.9 871.4,261.5 871.8,258.8 872.1,262.1 872.5,259.8 872.7,261.9 872.8,262.7 873.2,259.6 873.5,262.4 873.9,260.3 874.2,262.9 874.6,260.5 874.9,263.5 875.3,260.2 875.6,263.0 875.9,260.8 876.0,261.9 876.3,270.2 876.7,273.1 877.0,281.0 877.4,283.9 877.7,290.3 877.7,291.5 878.1,287.6 878.4,289.2 878.8,284.8 879.1,286.3 879.5,282.7 879.8,283.7 879.9,282.7 880.2,278.8 880.5,278.6 880.9,273.1 881.2,273.9 881.6,268.4 881.9,268.6 882.3,263.9 882.5,264.0 882.6,265.3 883.0,263.0 883.3,266.1 883.7,263.7 884.0,267.3 884.4,265.9 884.7,269.0 885.1,267.8 885.1,268.4 885.4,269.9 885.8,266.4 886.1,267.8 886.5,264.8 886.8,266.5 887.2,263.0 887.5,264.7 887.9,261.4 888.2,262.9 888.6,259.7 888.9,261.6 889.0,260.8 889.3,258.0 889.6,259.4 890.0,255.7 890.3,257.4 890.7,253.9 891.0,255.5 891.2,254.2 891.4,253.6 891.7,259.0 892.1,258.8 892.4,264.1 892.6,264.5 892.8,262.2 893.1,263.9 893.5,260.3 893.8,262.1 894.2,258.5 894.5,260.5 894.9,256.8 895.2,258.4 895.5,256.9 895.6,254.9 895.9,255.8 896.3,251.3 896.6,252.7 897.0,248.9 897.3,250.1 897.7,245.1 898.0,245.8 898.3,243.8 898.4,242.5 898.7,247.2 899.1,247.0 899.4,252.5 899.8,252.0 900.1,257.6 900.5,257.6 900.5,259.0 900.8,259.2 901.2,254.8 901.5,256.3 901.9,252.6 902.2,254.1 902.6,250.0 902.9,251.2 903.3,247.2 903.6,248.5 904.0,244.1 904.2,243.8 904.3,246.5 904.7,244.8 905.0,248.0 905.4,245.9 905.7,249.5 906.1,247.8 906.4,250.3 906.4,251.0 906.8,246.4 907.1,247.5 907.5,243.3 907.8,244.7 908.2,239.8 908.5,241.3 908.9,236.7 909.2,238.1 909.2,237.2 909.6,236.5 909.9,240.7 910.3,240.0 910.6,244.3 911.0,242.5 911.3,246.0 911.4,244.8 911.7,240.8 912.0,239.9 912.4,234.2 912.7,234.0 913.0,230.6 913.1,229.3 913.4,232.7 913.8,230.3 914.1,233.2 914.5,230.5 914.8,232.8 915.2,230.7 915.5,233.2 915.8,232.8 915.9,230.3 916.2,230.7 916.6,225.7 916.9,226.6 917.3,222.3 917.6,223.3 918.0,219.0 918.3,219.3 918.4,217.5 918.7,217.4 919.0,221.3 919.4,219.5 919.7,223.2 920.1,221.7 920.4,224.8 920.6,224.1 920.8,220.8 921.1,220.9 921.5,216.4 921.8,216.7 922.2,211.8 922.5,212.7 922.9,208.0 923.2,208.6 923.5,205.5 923.6,206.0 923.9,213.7 924.3,216.0 924.6,222.9 925.0,224.7 925.3,231.2 925.7,233.1 926.0,240.2 926.1,240.5 926.4,233.6 926.7,231.1 927.1,222.7 927.4,220.3 927.6,217.5 927.8,214.4 928.1,216.0 928.5,211.9 928.8,213.3 929.2,208.9 929.5,210.1 929.8,207.0 929.9,207.5 930.2,213.8 930.6,214.6 930.9,220.1 931.3,221.0 931.6,226.8 932.0,227.9 932.3,234.1 932.7,235.5 932.7,237.2 933.0,234.5 933.4,228.2 933.7,227.4 934.1,220.8 934.4,219.8 934.8,213.4 934.8,214.2 935.1,215.7 935.5,212.3 935.8,214.6 936.2,211.3 936.5,213.4 936.9,210.2 937.2,212.9 937.6,209.5 937.7,212.0 937.9,211.3 938.3,207.3 938.6,209.3 939.0,205.2 939.3,206.5 939.7,202.0 940.0,202.3 940.3,200.0 940.4,197.0 940.7,195.9 941.1,189.6 941.4,188.6 941.8,182.1 942.1,181.4 942.5,175.4 942.5,176.8 942.8,179.9 943.2,180.0 943.5,184.6 943.9,184.3 944.2,189.4 944.6,188.4 944.7,190.5 944.9,192.8 945.3,191.6 945.6,195.8 946.0,195.0 946.3,199.2 946.4,199.0 946.7,193.7 947.0,193.4 947.4,188.2 947.7,188.0 948.0,184.5 948.1,183.1 948.4,184.6 948.8,181.4 949.1,182.7 949.3,181.4 949.5,172.6 949.8,162.9 950.0,156.6 950.2,156.1 950.5,162.3 950.9,162.3 951.2,167.9 951.6,168.5 951.9,174.4 952.3,175.3 952.3,176.0 952.6,176.3 953.0,171.7 953.3,171.8 953.7,167.1 953.9,167.2 954.0,166.9 954.4,160.2 954.7,160.0 955.1,153.6 955.4,153.3 955.8,147.2 955.9,147.2 956.1,151.6 956.5,152.4 956.8,158.4 957.2,158.9 957.3,160.5 957.5,163.2 957.9,161.7 958.2,164.7 958.6,162.7 958.6,163.5 958.9,166.8 959.3,164.3 959.6,167.6 959.8,167.0 960.0,170.8 960.3,183.6 960.5,187.3 960.7,179.0 961.0,171.5 961.2,166.0 961.4,162.0 961.7,162.1 962.1,155.9 962.3,156.5 962.4,156.7 962.8,152.4 963.1,154.3 963.5,150.2 963.8,152.7 963.9,151.2 964.2,151.8 964.5,152.5 964.9,153.3 965.2,154.0 965.5,154.5"/>
<polyline stroke="#c77cff" points="163.8,535.0 163.8,535.0 164.1,535.0 164.4,535.0 164.8,535.0 165.1,535.0 165.5,534.9 165.8,535.0 166.2,534.9 166.5,535.0 166.9,534.9 167.2,535.0 167.6,534.8 167.9,534.9 168.3,534.7 168.6,534.9 169.0,534.7 169.3,534.9 169.7,534.7 170.0,534.9 170.4,534.8 170.7,535.0 171.1,534.8 171.4,535.0 171.8,534.8 172.1,534.9 172.5,534.7 172.8,534.9 173.2,534.7 173.5,534.9 173.9,534.7 174.2,534.9 174.6,534.7 174.9,534.9 175.3,534.7 175.6,534.9 176.0,534.7 176.3,534.9 176.7,534.6 177.0,534.8 177.4,534.6 177.7,534.8 178.1,534.6 178.4,534.8 178.8,534.5 179.1,534.7 179.5,534.5 179.8,534.7 180.2,534.5 180.5,534.7 180.9,534.5 181.2,534.7 181.6,534.5 181.9,534.6 182.3,534.4 182.6,534.6 183.0,534.4 183.3,534.6 183.7,534.5 184.0,534.7 184.4,534.4 184.7,534.7 185.1,534.5 185.4,534.7 185.8,534.4 185.8,534.5 186.1,534.6 186.5,534.3 186.8,534.5 187.2,534.3 187.5,534.5 187.9,534.2 188.2,534.4 188.6,534.2 188.9,534.3 189.3,534.1 189.6,534.3 190.0,534.0 190.3,534.2 190.7,534.0 191.0,534.2 191.4,533.9 191.7,534.1 192.1,533.9 192.4,534.1 192.8,533.8 193.1,534.0 193.5,533.7 193.8,533.9 194.2,533.6 194.5,533.8 194.9,533.6 195.2,533.7 195.6,533.5 195.9,533.7 196.3,533.4 196.6,533.6 197.0,533.3 197.3,533.5 197.7,533.2 198.0,533.4 198.4,533.1 198.7,533.4 199.1,533.1 199.4,533.4 199.8,533.1 200.1,533.4 200.5,533.0 200.8,533.2 201.2,532.9 201.5,533.2 201.9,532.8 202.2,533.0 202.6,532.7 202.9,532.9 203.3,532.7 203.6,532.9 204.0,532.6 204.3,532.9 204.7,532.6 205.0,532.8 205.4,532.4 205.7,532.7 206.1,532.3 206.4,532.6 206.8,532.3 206.9,532.5 207.1,532.5 207.5,532.3 207.8,532.5 208.2,532.3 208.5,532.5 208.9,532.3 209.2,532.5 209.6,532.2 209.9,532.5 210.3,532.2 210.6,532.5 211.0,532.1 211.3,532.5 211.7,532.1 212.0,532.4 212.4,532.2 212.7,532.5 213.1,532.2 213.4,532.5 213.8,532.2 214.1,532.5 214.5,532.2 214.8,532.5 215.2,532.2 215.5,532.4 215.9,532.1 216.2,532.4 216.6,532.1 216.9,532.3 217.3,531.9 217.6,532.2 218.0,531.9 218.3,532.2 218.7,531.9 219.0,532.2 219.4,531.9 219.7,532.2 220.1,531.8 220.4,532.1 220.8,531.8 221.1,532.1 221.5,531.8 221.8,532.2 222.2,531.9 222.5,532.2 222.9,531.8 223.2,532.1 223.6,531.7 223.9,532.0 224.3,531.7 224.6,532.0 225.0,531.7 225.3,532.0 225.7,531.6 226.0,531.9 226.4,531.5 226.7,531.8 227.1,531.5 227.4,531.9 227.8,531.5 228.1,531.8 228.5,531.5 228.8,531.8 229.2,531.5 229.5,531.8 229.9,531.5 230.2,531.8 230.6,531.5 230.9,531.8 231.3,531.4 231.6,531.7 232.0,531.5 232.3,531.9 232.7,531.5 233.0,531.8 233.4,531.4 233.7,531.7 234.1,531.3 234.4,531.6 234.8,531.4 235.1,531.7 235.5,531.3 235.8,531.7 236.2,531.3 236.5,531.7 236.9,531.2 237.2,531.6 237.6,531.2 237.9,531.5 238.0,531.4 238.3,531.2 238.6,531.5 239.0,531.2 239.3,531.5 239.7,531.2 240.0,531.5 240.4,531.1 240.7,531.5 241.1,531.2 241.4,531.6 241.8,531.2 242.1,531.6 242.5,531.3 242.8,531.6 243.2,531.3 243.5,531.6 243.9,531.2 244.2,531.5 244.6,531.1 244.9,531.5 245.3,531.2 245.6,531.6 246.0,531.3 246.3,531.7 246.7,531.3 247.0,531.6 247.4,531.2 247.7,531.6 248.1,531.3 248.4,531.6 248.8,531.2 249.1,531.5 249.5,531.2 249.8,531.6 250.2,531.3 250.5,531.7 250.9,531.3 251.2,531.6 251.6,531.2 251.9,531.6 252.3,531.2 252.6,531.6 253.0,531.3 253.3,531.6 253.7,531.3 254.0,531.6 254.4,531.2 254.7,531.5 255.1,531.2 255.4,531.5 255.8,531.2 256.1,531.4 256.5,531.1 256.8,531.5 256.9,531.4 257.2,531.1 257.5,531.5 257.9,531.1 258.2,531.5 258.6,531.1 258.9,531.4 259.3,531.0 259.6,531.3 260.0,530.8 260.3,531.2 260.7,530.7 261.0,531.1 261.4,530.6 261.7,531.0 262.1,530.5 262.4,530.8 262.8,530.3 263.1,530.7 263.5,530.2 263.8,530.5 264.2,530.1 264.5,530.5 264.9,530.2 265.2,530.6 265.6,530.1 265.9,530.5 266.3,530.0 266.6,530.3 267.0,529.8 267.3,530.1 267.7,529.7 268.0,530.0 268.4,529.5 268.7,529.9 269.1,529.5 269.4,529.8 269.4,529.9 269.8,529.6 270.1,530.0 270.5,529.5 270.8,529.9 271.2,529.4 271.5,529.7 271.9,529.2 272.2,529.7 272.6,529.1 272.9,529.5 273.3,528.9 273.6,529.4 274.0,528.9 274.3,529.3 274.7,528.8 275.0,529.3 275.4,528.9 275.7,529.3 276.1,528.9 276.4,529.3 276.8,528.8 277.1,529.1 277.5,528.6 277.8,528.9 278.2,528.5 278.5,528.9 278.9,528.5 279.2,528.9 279.6,528.5 279.9,528.7 280.3,528.2 280.6,528.5 281.0,528.0 281.3,528.6 281.7,528.1 282.0,528.6 282.4,528.2 282.7,528.5 283.1,528.0 283.4,528.3 283.8,527.9 284.1,528.3 284.5,527.8 284.8,528.3 285.0,528.0 285.2,527.8 285.5,528.3 285.9,527.8 286.2,528.3 286.6,527.8 286.9,528.3 287.3,527.7 287.6,528.2 288.0,527.6 288.3,528.1 288.7,527.6 289.0,528.2 289.4,527.7 289.7,528.1 290.1,527.7 290.4,528.2 290.8,527.7 291.1,528.2 291.5,527.7 291.8,528.1 292.2,527.6 292.5,528.1 292.9,527.5 293.2,528.1 293.6,527.6 293.9,528.1 294.3,527.5 294.6,528.0 295.0,527.6 295.3,528.1 295.7,527.7 296.0,528.2 296.4,527.6 296.7,528.1 297.1,527.6 297.4,528.0 297.8,527.5 298.1,527.9 298.5,527.5 298.8,527.9 299.2,527.4 299.5,527.9 299.9,527.3 300.2,527.9 300.6,527.4 300.9,527.9 301.3,527.5 301.6,528.0 302.0,527.5 302.3,527.9 302.7,527.4 303.0,527.7 303.4,527.2 303.7,527.7 304.1,527.2 304.4,527.7 304.8,527.2 305.1,527.7 305.5,527.3 305.8,527.8 306.2,527.3 306.5,527.8 306.9,527.3 307.2,527.8 307.6,527.4 307.9,527.8 308.3,527.3 308.4,527.5 308.6,527.6 309.0,526.9 309.3,527.3 309.7,526.7 310.0,526.9 310.0,527.2 310.4,526.6 310.7,527.2 311.1,526.5 311.4,527.0 311.8,526.3 312.1,526.8 312.5,526.3 312.8,526.9 313.2,526.2 313.5,526.8 313.9,526.2 314.2,526.8 314.6,526.2 314.9,526.7 315.3,526.0 315.6,526.6 316.0,525.9 316.3,526.5 316.7,525.8 317.0,526.3 317.4,525.8 317.7,526.3 318.1,525.7 318.4,526.2 318.8,525.6 319.1,526.1 319.4,525.6 319.5,525.5 319.8,526.0 320.2,525.3 320.5,525.8 320.9,525.1 321.2,525.6 321.6,525.1 321.9,525.7 322.3,525.0 322.6,525.8 323.0,525.1 323.3,525.6 323.7,525.0 324.0,525.6 324.4,524.9 324.7,525.6 325.1,525.0 325.4,525.7 325.6,525.3 325.8,525.0 326.1,525.6 326.5,525.0 326.8,525.7 327.2,525.0 327.5,525.4 327.9,524.8 328.2,525.3 328.6,524.5 328.9,525.1 329.3,524.4 329.6,525.1 330.0,524.4 330.3,525.1 330.7,524.5 331.0,525.1 331.4,524.3 331.7,525.0 332.1,524.3 332.4,525.1 332.8,524.4 333.1,525.0 333.5,524.4 333.8,525.0 334.2,524.4 334.5,525.1 334.9,524.3 335.2,524.9 335.6,524.2 335.9,524.7 336.3,523.9 336.6,524.5 337.0,523.8 337.3,524.4 337.7,523.7 338.0,524.4 338.4,523.8 338.7,524.5 339.1,524.0 339.4,524.6 339.8,523.7 340.1,524.4 340.5,523.5 340.8,524.1 341.2,523.4 341.2,523.9 341.5,524.0 341.9,523.4 342.2,524.1 342.6,523.5 342.9,524.2 343.3,523.7 343.6,524.4 344.0,523.8 344.3,524.6 344.7,524.0 345.0,524.6 345.4,523.9 345.7,524.5 346.1,523.9 346.4,524.4 346.8,523.8 347.1,524.6 347.5,524.0 347.8,524.8 348.2,524.2 348.5,524.8 348.9,524.3 349.2,524.9 349.6,524.3 349.9,525.1 350.3,524.4 350.6,524.9 351.0,524.3 351.3,525.0 351.7,524.4 352.0,525.1 352.4,524.5 352.7,525.2 353.1,524.7 353.4,525.3 353.8,524.7 354.1,525.4 354.5,524.7 354.8,525.4 355.2,524.8 355.5,525.4 355.9,524.8 356.2,525.3 356.6,524.8 356.9,525.0 356.9,525.3 357.3,524.8 357.6,525.3 358.0,524.7 358.3,525.2 358.7,524.5 359.0,525.2 359.4,524.5 359.7,525.1 360.1,524.4 360.4,525.0 360.8,524.3 361.1,524.8 361.5,524.1 361.8,524.6 362.2,524.0 362.5,524.5 362.9,523.8 363.2,524.4 363.6,523.7 363.9,524.4 364.3,523.8 364.6,524.6 365.0,523.8 365.3,524.4 365.7,523.5 366.0,524.2 366.4,523.5 366.7,523.9 367.1,523.2 367.4,523.8 367.8,523.2 368.1,523.9 368.5,523.0 368.8,523.9 369.2,523.1 369.5,523.8 369.9,523.0 370.2,523.6 370.6,522.8 370.9,523.6 371.3,522.7 371.6,523.4 372.0,522.7 372.3,523.4 372.5,523.1 372.7,522.6 373.0,523.4 373.4,522.7 373.7,523.3 374.1,522.7 374.4,523.3 374.8,522.6 375.1,523.2 375.5,522.5 375.8,523.2 376.2,522.4 376.5,523.3 376.9,522.6 377.2,523.4 377.6,522.7 377.9,523.6 378.3,522.9 378.6,523.4 379.0,522.7 379.3,523.2 379.7,522.3 380.0,523.0 380.4,522.4 380.7,523.2 381.1,522.4 381.4,523.1 381.8,522.5 382.1,523.1 382.5,522.4 382.8,523.2 383.2,522.5 383.5,523.3 383.9,522.6 384.2,523.5 384.6,522.7 384.9,523.3 385.3,522.6 385.6,523.2 386.0,522.5 386.3,523.2 386.7,522.3 387.0,523.1 387.4,522.4 387.7,523.1 388.1,522.5 388.1,522.7 388.4,523.3 388.8,522.4 389.1,523.1 389.5,522.3 389.8,522.9 390.2,522.2 390.5,522.9 390.9,522.1 391.2,522.7 391.6,521.8 391.9,522.6 392.3,521.9 392.6,522.6 393.0,521.9 393.3,522.7 393.7,522.0 394.0,522.7 394.4,522.0 394.7,522.7 395.1,522.0 395.4,522.7 395.8,521.9 396.1,522.6 396.5,521.8 396.8,522.5 397.2,521.6 397.5,522.2 397.9,521.5 398.2,522.4 398.6,521.6 398.9,522.5 399.3,521.8 399.6,522.4 400.0,521.6 400.3,522.3 400.7,521.3 401.0,522.2 401.4,521.4 401.7,522.1 402.1,521.4 402.4,522.2 402.8,521.2 403.1,522.0 403.5,521.2 403.8,521.6 403.8,521.9 404.2,521.3 404.5,522.1 404.9,521.5 405.2,522.4 405.6,521.4 405.9,522.1 406.3,521.4 406.6,522.0 407.0,521.3 407.3,522.1 407.7,521.4 408.0,522.3 408.4,521.7 408.7,522.3 409.1,521.8 409.4,522.5 409.8,521.8 410.0,521.9 410.1,522.4 410.5,521.5 410.8,522.2 411.2,521.2 411.5,521.7 411.9,520.8 412.2,521.6 412.6,520.6 412.9,521.4 413.3,520.4 413.6,521.0 414.0,520.0 414.3,520.7 414.7,519.7 415.0,520.5 415.4,519.6 415.7,520.4 416.1,519.5 416.4,520.3 416.8,519.3 417.1,520.1 417.5,519.0 417.8,519.8 418.2,519.0 418.5,519.7 418.9,518.7 419.2,519.5 419.4,518.8 419.6,518.6 419.9,519.5 420.3,518.4 420.6,519.3 421.0,518.3 421.3,519.3 421.7,518.5 422.0,519.2 422.4,518.2 422.7,519.0 423.1,517.9 423.4,518.9 423.8,517.8 424.1,518.8 424.5,517.9 424.8,518.9 425.2,517.7 425.5,518.8 425.9,517.8 426.2,518.8 426.4,518.0 426.6,517.6 426.9,518.3 427.3,517.0 427.6,517.9 428.0,516.9 428.3,517.8 428.7,516.6 429.0,517.5 429.4,516.4 429.7,517.2 430.0,516.9 430.1,516.1 430.4,517.0 430.8,516.1 431.1,517.1 431.5,515.9 431.8,516.8 432.2,515.7 432.5,516.8 432.9,515.6 433.2,516.7 433.6,515.6 433.9,516.4 434.3,515.0 434.6,516.0 435.0,514.4 435.3,515.3 435.7,514.2 436.0,515.6 436.4,514.4 436.7,515.6 437.1,514.2 437.4,515.3 437.5,514.4 437.8,514.0 438.1,515.0 438.5,513.7 438.8,514.7 439.2,513.6 439.5,514.4 439.9,513.3 440.2,514.2 440.6,512.8 440.9,513.8 441.3,512.5 441.6,513.6 442.0,512.7 442.3,513.8 442.7,512.6 443.0,513.7 443.4,512.5 443.7,513.8 444.1,512.6 444.4,513.5 444.8,512.1 445.0,512.5 445.1,513.4 445.5,512.4 445.8,513.8 446.2,512.9 446.5,514.3 446.9,513.7 447.2,514.9 447.6,514.3 447.9,515.7 448.3,514.9 448.6,516.3 448.8,515.6 449.0,515.2 449.3,515.7 449.7,514.2 450.0,515.1 450.4,513.5 450.7,514.2 451.1,512.8 451.4,513.6 451.8,512.2 452.1,512.9 452.5,511.1 452.8,512.0 453.1,511.2 453.2,510.2 453.5,511.8 453.9,510.6 454.2,511.8 454.6,510.8 454.9,512.2 455.3,510.6 455.6,511.7 456.0,510.4 456.3,511.6 456.7,510.4 457.0,511.7 457.4,510.4 457.7,511.6 458.1,510.3 458.4,511.4 458.8,509.9 459.1,511.1 459.5,509.9 459.8,511.0 460.2,510.0 460.5,511.1 460.9,510.0 461.2,511.1 461.2,510.6 461.6,509.6 461.9,511.0 462.3,509.6 462.6,510.8 463.0,509.8 463.3,511.0 463.7,509.7 464.0,510.8 464.4,509.4 464.7,510.5 465.1,509.2 465.4,510.5 465.8,509.2 466.1,510.6 466.5,509.2 466.8,510.4 467.2,509.0 467.5,510.1 467.9,508.9 468.2,509.9 468.6,508.8 468.9,510.0 469.3,508.9 469.6,510.2 470.0,508.8 470.0,509.4 470.3,509.9 470.7,508.5 471.0,509.5 471.4,507.9 471.7,509.2 472.1,507.8 472.4,508.7 472.8,507.2 473.1,508.3 473.5,507.0 473.8,508.0 474.2,506.5 474.5,507.9 474.9,506.6 475.2,507.8 475.6,506.6 475.9,507.8 476.3,506.4 476.6,507.4 477.0,505.9 477.3,506.9 477.5,506.2 477.7,505.2 478.0,506.6 478.4,505.1 478.7,506.5 479.1,504.9 479.4,506.5 479.8,505.1 480.1,506.7 480.5,505.1 480.8,506.7 481.2,505.6 481.5,507.2 481.9,505.7 482.2,507.1 482.6,505.5 482.9,507.1 483.3,505.1 483.6,507.0 483.8,506.2 484.0,505.3 484.3,506.7 484.7,505.4 485.0,506.5 485.4,504.8 485.7,506.4 486.1,504.9 486.4,506.3 486.8,504.6 487.1,506.0 487.5,504.6 487.8,506.0 488.2,504.4 488.5,505.7 488.9,503.9 489.2,505.1 489.6,503.4 489.9,504.9 490.3,503.3 490.6,504.5 491.0,502.9 491.2,503.8 491.3,504.2 491.7,502.6 492.0,504.3 492.4,502.6 492.7,504.5 493.1,503.2 493.4,504.9 493.8,503.3 494.1,505.2 494.5,504.1 494.8,505.7 495.2,504.4 495.5,506.3 495.9,504.9 496.2,506.5 496.6,505.1 496.9,506.6 497.3,504.8 497.5,505.6 497.6,506.4 498.0,504.5 498.3,505.6 498.7,503.8 499.0,505.3 499.4,503.8 499.7,505.0 500.1,503.5 500.4,504.9 500.8,503.5 501.1,505.0 501.5,503.4 501.8,505.1 502.2,503.1 502.5,504.8 502.9,503.2 503.2,504.4 503.6,502.2 503.8,503.1 503.9,503.4 504.3,501.2 504.6,503.2 505.0,501.5 505.3,503.0 505.7,501.5 506.0,502.6 506.4,500.4 506.7,501.5 507.1,499.6 507.4,500.6 507.8,498.9 508.1,500.2 508.5,498.6 508.8,499.9 509.2,498.1 509.5,499.7 509.9,497.7 510.0,498.8 510.2,499.3 510.6,497.2 510.9,499.0 511.3,497.1 511.6,499.0 512.0,496.9 512.3,498.3 512.7,496.0 513.0,497.8 513.4,495.3 513.7,497.3 514.1,495.2 514.4,496.9 514.8,494.8 515.1,496.6 515.5,493.8 515.8,495.3 516.2,492.9 516.2,494.4 516.5,494.6 516.9,492.9 517.2,494.8 517.6,492.7 517.9,495.1 518.3,492.5 518.6,493.9 519.0,491.7 519.3,493.3 519.7,491.4 520.0,493.4 520.4,491.7 520.6,491.9 520.7,494.0 521.1,492.5 521.4,495.1 521.8,493.5 522.1,496.1 522.5,494.6 522.5,495.0 522.8,497.3 523.2,496.2 523.5,498.9 523.9,498.1 524.2,500.9 524.6,500.0 524.9,502.4 525.0,501.9 525.3,500.6 525.6,501.7 526.0,499.1 526.3,500.7 526.7,498.3 526.9,498.1 527.0,499.2 527.4,496.1 527.7,496.3 528.1,493.5 528.4,494.4 528.8,491.1 529.1,492.2 529.2,491.8 529.5,491.1 529.8,494.5 530.2,493.6 530.5,496.6 530.9,495.8 531.2,498.5 531.3,498.5 531.6,497.3 531.9,499.4 532.3,497.7 532.6,500.0 533.0,498.0 533.3,499.7 533.7,497.6 534.0,499.5 534.4,497.7 534.7,499.5 535.1,498.0 535.4,500.1 535.8,498.7 536.1,500.3 536.5,498.7 536.8,500.4 537.2,498.6 537.3,499.3 537.5,500.7 537.9,499.1 538.2,500.8 538.6,499.2 538.9,501.2 539.3,499.3 539.6,501.3 540.0,499.6 540.3,501.2 540.7,499.9 541.0,501.9 541.4,500.3 541.7,502.2 542.1,500.5 542.4,502.3 542.5,501.0 542.8,500.7 543.1,502.1 543.5,500.0 543.8,501.5 544.2,499.5 544.5,501.0 544.9,499.2 545.2,500.9 545.6,499.3 545.9,501.1 546.3,499.1 546.6,500.8 547.0,498.7 547.3,499.9 547.7,497.8 548.0,499.5 548.4,497.6 548.7,499.7 549.1,497.7 549.4,499.5 549.8,497.5 550.1,499.1 550.5,497.3 550.8,498.7 551.0,497.6 551.2,496.9 551.5,498.7 551.9,496.5 552.2,498.8 552.6,496.6 552.9,498.0 553.3,496.2 553.6,497.6 554.0,495.4 554.3,497.4 554.7,495.6 555.0,497.2 555.4,494.7 555.7,496.7 556.1,493.9 556.4,495.7 556.8,493.3 557.1,495.4 557.5,493.3 557.8,495.3 558.2,493.3 558.5,494.8 558.8,493.7 558.9,492.9 559.2,494.9 559.6,493.2 559.9,495.1 560.3,493.1 560.6,494.8 561.0,492.6 561.3,494.8 561.7,492.5 562.0,494.9 562.4,492.5 562.7,494.6 563.1,492.4 563.4,494.1 563.8,491.7 564.1,493.3 564.5,490.9 564.8,493.2 565.2,491.3 565.5,493.9 565.9,491.8 566.2,494.0 566.5,492.5 566.6,492.0 566.9,494.1 567.3,491.9 567.6,493.5 568.0,491.0 568.3,493.0 568.7,490.9 569.0,492.5 569.4,490.0 569.7,491.7 570.1,489.7 570.4,491.4 570.8,489.5 571.1,491.6 571.5,489.5 571.8,491.9 572.2,489.5 572.5,491.3 572.9,488.9 573.2,490.8 573.4,489.4 573.6,488.9 573.9,491.1 574.3,488.7 574.6,490.7 575.0,488.3 575.3,490.2 575.7,487.9 576.0,489.8 576.4,487.7 576.7,490.1 577.1,488.3 577.4,490.7 577.8,489.0 578.1,490.7 578.5,488.9 578.8,490.8 579.2,488.5 579.5,491.1 579.9,488.9 580.2,491.0 580.6,488.8 580.9,491.3 581.3,488.8 581.6,491.2 582.0,489.2 582.0,489.9 582.3,490.9 582.7,488.2 583.0,490.2 583.4,487.9 583.7,490.2 584.1,487.5 584.4,489.4 584.8,486.7 585.1,488.3 585.5,485.8 585.8,487.8 586.2,484.7 586.5,486.5 586.9,483.6 587.1,485.6 587.2,486.1 587.6,483.8 587.9,486.2 588.3,483.6 588.6,486.4 589.0,484.0 589.3,486.4 589.7,483.7 590.0,486.2 590.4,484.4 590.7,486.9 591.1,484.8 591.4,487.3 591.8,485.0 592.1,487.2 592.3,485.6 592.5,484.4 592.8,486.7 593.2,485.0 593.5,487.1 593.9,485.5 594.2,488.1 594.6,485.8 594.9,487.9 595.3,485.5 595.6,488.3 596.0,485.7 596.3,488.8 596.7,486.3 597.0,489.0 597.4,486.8 597.5,487.3 597.7,488.9 598.1,486.1 598.4,487.9 598.8,484.9 599.1,487.3 599.5,484.7 599.8,487.6 600.2,484.8 600.5,487.5 600.9,484.7 600.9,485.6 601.2,487.8 601.6,485.9 601.9,488.5 602.3,486.5 602.6,489.0 603.0,487.1 603.3,489.5 603.7,487.2 604.0,489.5 604.4,486.8 604.7,489.1 605.1,487.5 605.4,490.0 605.8,487.4 606.0,489.4 606.1,489.8 606.5,487.7 606.8,489.9 607.2,488.0 607.5,490.2 607.9,487.8 608.2,490.1 608.6,488.3 608.9,490.8 609.3,488.5 609.6,491.0 610.0,488.4 610.0,489.1 610.3,490.3 610.7,487.5 611.0,489.7 611.4,487.4 611.7,489.5 612.1,487.5 612.4,489.7 612.8,487.3 613.1,490.1 613.5,487.7 613.8,489.8 614.2,487.6 614.5,489.9 614.9,488.0 615.2,489.8 615.6,487.4 615.9,489.3 616.3,486.6 616.6,488.5 617.0,486.5 617.3,488.7 617.7,486.3 618.0,488.2 618.4,486.2 618.7,488.7 618.8,487.6 619.1,486.1 619.4,488.9 619.8,486.8 620.1,488.9 620.5,486.4 620.8,488.2 621.2,485.8 621.5,488.4 621.9,485.5 622.2,488.5 622.6,486.0 622.9,488.1 623.3,485.3 623.6,487.2 624.0,484.5 624.3,486.2 624.7,484.1 625.0,486.9 625.3,485.8 625.4,484.2 625.7,487.4 626.1,484.9 626.4,487.2 626.8,485.5 627.1,487.5 627.5,485.3 627.8,487.8 628.2,485.7 628.5,487.9 628.9,486.0 629.2,488.3 629.6,486.1 629.9,488.9 630.3,486.6 630.6,488.6 631.0,486.0 631.3,488.8 631.7,485.9 631.9,487.4 632.0,488.2 632.4,485.6 632.7,487.1 633.1,484.2 633.4,486.7 633.8,483.9 634.1,486.3 634.5,483.4 634.8,485.8 635.2,483.3 635.5,485.7 635.9,482.8 636.2,485.3 636.6,482.9 636.9,484.7 637.3,482.3 637.6,484.1 638.0,481.8 638.3,484.0 638.7,481.2 639.0,483.6 639.4,480.6 639.7,483.0 640.1,479.8 640.4,482.1 640.8,478.8 641.1,481.2 641.5,477.7 641.7,479.3 641.8,480.5 642.2,477.6 642.5,480.1 642.9,477.4 643.2,479.6 643.6,476.8 643.9,479.4 644.3,477.7 644.6,480.3 645.0,478.2 645.3,481.1 645.7,478.2 646.0,480.3 646.4,477.1 646.7,479.7 647.1,476.6 647.4,479.3 647.8,476.6 648.1,479.1 648.5,476.2 648.8,478.6 649.2,475.8 649.4,478.2 649.5,478.7 649.9,475.9 650.2,479.2 650.6,476.6 650.9,479.0 651.3,476.3 651.6,479.4 652.0,476.7 652.3,479.4 652.7,477.0 653.0,479.3 653.4,476.5 653.7,478.6 654.1,476.3 654.4,479.0 654.8,475.9 655.1,479.4 655.5,476.7 655.8,479.4 656.2,476.8 656.5,479.6 656.9,477.5 657.0,478.2 657.2,480.0 657.6,477.7 657.9,480.8 658.3,478.2 658.6,481.3 659.0,478.9 659.3,480.8 659.7,478.5 660.0,481.0 660.3,479.9 660.4,478.2 660.7,480.2 661.1,477.0 661.4,479.1 661.8,475.9 662.1,478.2 662.5,474.8 662.8,476.7 663.2,473.3 663.5,475.2 663.6,473.8 663.9,472.3 664.2,475.5 664.6,472.4 664.9,475.6 665.3,471.9 665.6,475.1 666.0,471.7 666.3,474.7 666.7,471.6 667.0,474.2 667.4,471.8 667.7,474.3 668.1,471.5 668.4,474.1 668.8,471.2 669.1,474.4 669.5,471.4 669.8,474.3 670.2,470.6 670.5,473.8 670.9,470.8 671.2,473.7 671.6,470.0 671.9,473.2 672.3,469.9 672.6,472.4 673.0,470.0 673.3,473.2 673.5,471.2 673.7,469.9 674.0,473.2 674.4,469.7 674.7,472.6 675.1,469.2 675.4,472.2 675.8,469.9 676.1,473.2 676.5,470.5 676.8,473.4 677.2,470.2 677.5,473.0 677.9,469.8 678.2,472.3 678.6,469.2 678.9,472.4 679.3,469.2 679.6,472.3 680.0,469.6 680.3,472.8 680.7,469.3 681.0,472.5 681.4,469.1 681.7,472.6 682.1,470.1 682.4,472.9 682.8,470.4 683.1,473.0 683.5,470.1 683.8,473.0 684.2,469.9 684.5,473.2 684.9,470.1 685.2,473.6 685.6,470.3 685.9,473.6 686.3,470.0 686.6,471.6 686.6,473.2 687.0,469.8 687.3,472.3 687.7,469.4 688.0,472.2 688.4,469.1 688.7,471.9 689.1,469.0 689.4,471.5 689.8,468.4 690.1,470.9 690.5,467.6 690.8,469.7 691.2,465.8 691.5,468.0 691.9,464.8 692.2,467.7 692.6,464.5 692.9,467.5 693.2,466.1 693.3,463.9 693.6,467.9 694.0,464.9 694.3,467.9 694.7,465.1 695.0,468.3 695.4,465.7 695.7,468.4 696.1,465.1 696.4,469.5 696.8,466.7 697.1,470.0 697.5,467.6 697.8,471.2 698.2,468.5 698.5,470.9 698.6,469.8 698.9,467.8 699.2,470.4 699.6,467.3 699.9,470.4 700.3,467.4 700.6,470.0 701.0,467.4 701.3,470.6 701.7,467.5 702.0,471.1 702.4,467.6 702.7,470.6 703.1,467.5 703.4,470.3 703.8,466.5 704.1,469.9 704.5,466.5 704.8,469.1 705.2,465.6 705.5,468.3 705.9,464.9 706.2,468.5 706.3,466.1 706.6,464.6 706.9,467.4 707.3,463.6 707.6,466.9 708.0,462.8 708.3,466.1 708.7,463.0 709.0,466.1 709.4,462.9 709.7,466.6 710.1,463.0 710.4,466.3 710.8,462.5 711.1,465.7 711.5,462.4 711.8,465.3 712.2,461.9 712.5,465.2 712.8,462.4 712.9,460.7 713.2,463.0 713.6,458.5 713.9,461.1 714.3,456.4 714.6,459.3 715.0,455.5 715.0,457.4 715.3,460.3 715.7,458.1 716.0,461.9 716.4,458.9 716.7,462.6 717.1,459.7 717.2,462.4 717.4,463.6 717.8,459.6 718.1,463.7 718.5,460.3 718.8,464.3 719.2,460.3 719.5,463.5 719.9,460.2 720.2,463.8 720.6,459.7 720.9,463.0 721.3,459.2 721.6,462.9 722.0,459.3 722.3,462.0 722.7,458.5 723.0,461.9 723.4,458.1 723.7,462.1 723.8,460.7 724.1,459.3 724.4,462.3 724.8,459.0 725.1,461.4 725.5,457.6 725.8,460.2 726.2,455.6 726.5,459.0 726.9,455.1 727.2,458.4 727.6,454.7 727.9,458.2 728.3,454.0 728.6,457.8 729.0,453.3 729.3,456.9 729.7,452.5 729.7,454.5 730.0,457.3 730.4,454.7 730.7,459.8 731.1,455.7 731.4,460.1 731.8,456.6 732.1,460.7 732.5,457.4 732.5,459.6 732.8,461.9 733.2,459.1 733.5,463.6 733.9,460.3 734.2,464.3 734.6,461.3 734.9,464.7 735.3,461.6 735.6,465.5 735.8,462.8 736.0,461.4 736.3,463.6 736.7,458.7 737.0,461.2 737.4,456.6 737.7,459.0 738.0,456.7 738.1,454.5 738.4,458.0 738.8,454.5 739.1,458.8 739.5,454.6 739.8,458.9 740.2,455.9 740.5,460.4 740.9,457.0 741.2,461.5 741.6,457.9 741.9,461.7 742.3,458.4 742.6,461.9 743.0,458.0 743.3,462.0 743.5,459.6 743.7,458.0 744.0,461.8 744.4,457.4 744.7,461.2 745.1,456.9 745.4,459.9 745.8,456.1 746.1,459.3 746.5,456.0 746.8,458.6 747.2,455.3 747.4,455.8 747.5,458.7 747.9,455.7 748.2,460.8 748.6,457.6 748.9,461.7 749.3,458.5 749.6,462.6 750.0,459.3 750.3,463.6 750.7,460.4 751.0,464.3 751.4,462.3 751.7,465.9 752.1,463.7 752.2,466.1 752.4,467.0 752.8,462.7 753.1,465.4 753.5,462.0 753.8,464.2 754.2,459.8 754.5,462.4 754.9,458.3 755.2,460.3 755.5,457.4 755.6,456.2 755.9,459.9 756.3,456.6 756.6,459.9 757.0,456.1 757.3,459.7 757.7,455.8 758.0,459.8 758.4,457.3 758.7,461.3 759.1,458.5 759.4,461.9 759.8,459.4 760.0,461.2 760.1,462.9 760.5,459.2 760.8,462.6 761.2,458.5 761.5,462.1 761.9,459.0 762.2,462.3 762.6,458.6 762.9,462.4 763.3,458.9 763.6,463.3 764.0,459.0 764.3,462.7 764.7,458.8 765.0,461.6 765.4,457.4 765.7,461.0 766.1,457.1 766.2,458.9 766.4,459.9 766.8,456.9 767.1,461.1 767.5,458.0 767.8,462.4 768.2,460.1 768.5,464.0 768.6,462.0 768.9,459.4 769.2,462.5 769.6,458.2 769.9,461.4 770.3,457.2 770.6,460.5 771.0,456.2 771.3,458.8 771.7,455.1 772.0,458.3 772.4,454.4 772.5,455.0 772.7,458.1 773.1,454.0 773.4,457.2 773.8,452.6 774.1,456.6 774.5,452.5 774.8,456.5 775.2,452.5 775.5,456.3 775.9,453.0 776.2,457.0 776.6,453.3 776.9,457.1 777.3,453.0 777.6,457.1 778.0,454.1 778.3,458.0 778.7,454.7 779.0,458.4 779.4,454.6 779.7,458.2 780.1,454.3 780.3,455.8 780.4,457.9 780.8,452.5 781.1,455.5 781.5,450.5 781.8,453.1 782.2,449.2 782.5,452.5 782.7,449.5 782.9,447.8 783.2,452.6 783.6,448.0 783.9,452.1 784.3,448.1 784.6,452.2 785.0,447.4 785.3,451.7 785.7,447.3 786.0,452.2 786.4,448.2 786.7,452.4 787.1,448.8 787.4,452.6 787.8,449.3 788.1,452.2 788.1,453.1 788.5,449.1 788.8,452.6 789.2,448.4 789.5,452.1 789.9,447.6 790.2,451.3 790.6,446.8 790.9,451.0 791.3,446.8 791.6,449.8 792.0,446.4 792.3,450.3 792.7,446.0 792.8,448.8 793.0,450.7 793.4,447.8 793.7,452.3 794.1,448.5 794.4,452.4 794.8,449.2 795.1,453.0 795.5,449.4 795.8,453.6 796.2,450.0 796.5,455.0 796.7,452.7 796.9,451.6 797.2,455.0 797.6,451.0 797.9,455.1 798.3,451.5 798.6,454.5 799.0,450.8 799.3,454.3 799.7,449.9 800.0,453.8 800.4,450.0 800.7,453.4 801.1,449.1 801.4,450.3 801.4,452.7 801.8,447.9 802.1,451.0 802.5,445.7 802.8,449.1 803.2,446.1 803.5,450.6 803.9,447.0 804.2,450.9 804.6,445.4 804.9,449.2 805.3,444.3 805.6,446.6 806.0,442.0 806.3,446.9 806.7,442.5 806.9,444.8 807.0,446.6 807.4,441.5 807.7,445.5 808.1,441.2 808.4,444.4 808.8,440.4 809.1,444.4 809.5,440.5 809.8,444.4 810.2,439.7 810.5,444.0 810.9,438.7 811.2,442.6 811.6,437.7 811.6,440.2 811.9,442.4 812.3,437.7 812.6,441.5 813.0,437.0 813.3,441.9 813.7,437.5 814.0,441.3 814.4,436.7 814.7,441.0 815.1,436.6 815.4,440.6 815.8,436.1 816.1,440.0 816.2,438.6 816.5,435.5 816.8,439.2 817.2,434.3 817.5,438.8 817.9,433.4 818.2,436.4 818.6,431.0 818.9,434.8 819.3,428.9 819.4,431.6 819.6,433.4 820.0,428.2 820.3,432.8 820.7,428.3 821.0,433.0 821.4,428.4 821.7,433.0 822.1,428.6 822.4,433.5 822.8,430.3 823.1,435.1 823.3,433.1 823.5,429.9 823.8,431.8 824.0,426.9 824.2,424.6 824.5,429.3 824.9,423.2 825.2,427.0 825.6,423.3 825.9,428.3 826.3,424.1 826.6,428.3 827.0,424.2 827.3,428.3 827.7,423.5 828.0,424.5 828.0,426.7 828.4,420.7 828.7,424.3 829.1,418.9 829.4,421.3 829.5,419.0 829.8,418.0 830.1,422.9 830.5,419.8 830.8,425.0 831.2,421.3 831.5,427.2 831.9,422.9 831.9,426.0 832.2,427.6 832.6,422.3 832.9,425.4 833.3,420.6 833.6,424.2 834.0,419.2 834.3,423.4 834.7,418.3 835.0,422.2 835.0,422.5 835.4,418.8 835.7,423.7 836.1,420.3 836.4,425.3 836.8,422.2 837.1,427.1 837.5,423.5 837.8,428.4 838.1,426.0 838.2,424.7 838.5,427.6 838.9,422.7 839.2,425.9 839.6,420.5 839.9,424.2 840.3,418.7 840.6,421.7 841.0,416.1 841.3,419.4 841.7,413.5 842.0,415.9 842.0,417.3 842.4,414.0 842.7,418.4 843.1,414.2 843.4,419.2 843.8,415.3 844.1,421.6 844.5,417.1 844.8,422.4 845.2,418.6 845.2,419.8 845.5,422.2 845.9,416.8 846.2,421.3 846.6,415.2 846.9,419.4 847.3,414.2 847.5,415.9 847.6,416.5 848.0,409.7 848.3,412.0 848.7,405.1 849.0,408.0 849.4,401.3 849.7,403.1 849.8,401.9 850.1,400.1 850.4,405.6 850.8,402.5 851.1,407.5 851.5,403.6 851.8,408.2 852.2,404.8 852.2,408.1 852.5,406.6 852.9,400.8 853.2,403.2 853.6,397.0 853.9,398.4 854.2,394.0 854.3,393.0 854.6,401.2 855.0,400.6 855.3,409.0 855.7,408.3 856.0,417.5 856.4,416.8 856.6,421.4 856.7,422.7 857.1,414.1 857.4,415.4 857.8,407.2 858.1,408.8 858.4,405.8 858.5,402.5 858.8,409.1 859.2,405.7 859.5,411.4 859.9,407.6 860.2,411.6 860.6,407.7 860.9,411.2 861.3,406.7 861.6,411.2 861.6,413.1 862.0,408.1 862.3,413.0 862.7,407.3 863.0,412.1 863.4,406.6 863.7,410.4 864.1,405.0 864.4,409.0 864.7,406.6 864.8,402.7 865.1,407.5 865.5,401.1 865.8,404.9 866.2,399.6 866.5,403.7 866.9,399.3 867.2,402.5 867.5,400.3 867.6,398.8 867.9,404.9 868.3,401.5 868.6,407.9 869.0,404.5 869.3,410.5 869.7,406.3 870.0,411.1 870.4,408.2 870.7,415.0 871.1,411.6 871.2,413.6 871.4,415.9 871.8,410.0 872.1,412.7 872.5,406.6 872.8,408.8 873.2,402.5 873.3,403.4 873.5,405.7 873.9,399.9 874.2,403.7 874.6,397.6 874.9,401.4 875.3,395.5 875.3,398.0 875.6,400.2 876.0,397.3 876.3,402.4 876.7,399.7 877.0,405.6 877.4,402.6 877.7,409.3 878.0,408.1 878.1,405.2 878.4,410.5 878.8,407.4 879.1,412.1 879.5,407.7 879.8,413.6 880.2,409.2 880.5,414.8 880.9,410.7 881.2,416.1 881.6,411.7 881.9,415.2 881.9,418.0 882.3,413.0 882.6,416.5 883.0,411.2 883.3,416.5 883.7,410.9 884.0,414.3 884.4,408.9 884.7,413.7 885.0,410.5 885.1,408.1 885.4,410.6 885.8,405.4 886.1,409.6 886.5,403.6 886.8,406.8 887.2,401.3 887.5,404.8 887.9,399.4 888.2,403.1 888.4,401.1 888.6,397.8 888.9,403.7 889.3,401.1 889.6,406.4 890.0,403.2 890.3,409.3 890.7,407.3 890.7,409.7 891.0,411.3 891.4,407.2 891.7,410.8 892.1,406.3 892.4,409.7 892.8,404.4 893.1,409.0 893.5,405.1 893.8,409.1 894.0,408.1 894.2,404.2 894.5,408.1 894.9,403.0 895.2,407.4 895.6,401.5 895.9,405.6 896.3,399.7 896.4,400.3 896.6,403.2 897.0,398.9 897.3,404.3 897.7,399.6 898.0,405.0 898.4,401.7 898.7,407.9 899.1,402.8 899.4,408.2 899.5,404.2 899.8,404.2 900.1,408.9 900.5,405.2 900.8,409.2 901.2,404.5 901.5,409.7 901.9,405.1 902.2,411.0 902.6,408.3 902.7,411.2 902.9,413.6 903.3,409.4 903.6,412.6 904.0,407.6 904.3,411.0 904.7,405.0 905.0,408.9 905.0,409.2 905.4,401.2 905.7,403.4 906.1,395.9 906.4,397.7 906.8,389.6 906.9,392.5 907.1,394.9 907.5,391.5 907.8,398.2 908.2,395.5 908.5,402.2 908.9,398.9 908.9,403.4 909.2,403.4 909.6,399.0 909.9,404.3 910.3,401.0 910.6,405.1 911.0,401.2 911.2,401.9 911.3,405.0 911.7,398.8 912.0,403.2 912.4,397.0 912.7,401.1 913.1,396.1 913.4,399.9 913.8,394.0 914.1,398.5 914.5,393.9 914.8,398.2 915.2,393.8 915.5,397.1 915.9,391.0 916.2,393.9 916.6,388.9 916.9,392.4 917.3,387.3 917.5,389.4 917.6,391.7 918.0,386.8 918.3,391.0 918.7,386.7 919.0,390.8 919.4,384.8 919.7,389.3 920.1,383.3 920.4,387.6 920.8,382.4 921.1,386.7 921.4,383.9 921.5,381.7 921.8,387.5 922.2,383.6 922.5,387.8 922.9,384.2 923.2,389.1 923.6,384.3 923.9,389.5 924.3,386.0 924.5,386.2 924.6,390.0 925.0,383.8 925.3,388.0 925.7,382.3 926.0,386.4 926.4,380.7 926.7,384.0 927.1,377.8 927.4,381.5 927.8,376.8 928.1,381.1 928.5,375.7 928.8,379.6 929.2,374.5 929.2,377.7 929.5,381.4 929.9,378.7 930.2,384.4 930.6,380.3 930.9,386.3 931.3,382.7 931.6,387.5 932.0,383.8 932.3,389.0 932.7,385.0 933.0,390.5 933.1,387.0 933.4,385.6 933.7,389.7 934.1,384.6 934.4,389.2 934.8,383.2 935.1,387.8 935.5,381.8 935.8,386.1 936.2,380.5 936.5,385.2 936.9,380.6 937.2,384.2 937.6,379.8 937.8,380.0 937.9,382.8 938.3,377.6 938.6,380.5 939.0,374.1 939.3,377.2 939.7,372.0 940.0,376.3 940.4,370.8 940.7,375.2 941.1,370.0 941.4,374.6 941.7,370.6 941.8,369.2 942.1,375.5 942.5,371.8 942.8,377.9 943.2,375.0 943.5,379.9 943.9,376.8 944.2,381.9 944.6,378.6 944.8,380.8 944.9,381.6 945.3,374.6 945.6,378.0 946.0,371.4 946.3,374.4 946.7,367.6 947.0,370.3 947.2,366.7 947.4,363.8 947.7,367.2 948.1,360.3 948.4,362.4 948.8,355.5 949.1,358.3 949.2,355.4 949.5,355.5 949.8,363.4 950.2,362.4 950.5,370.2 950.9,369.7 951.1,375.3 951.2,375.2 951.6,367.2 951.9,370.3 952.3,362.8 952.6,364.7 953.0,357.5 953.3,361.0 953.4,358.3 953.7,356.0 954.0,359.5 954.4,355.3 954.7,358.5 955.1,353.3 955.4,356.7 955.8,350.7 955.8,354.6 956.1,358.9 956.5,358.0 956.8,366.9 956.9,364.2 957.2,362.4 957.5,365.6 957.9,359.2 958.2,363.4 958.6,357.4 958.9,360.9 959.3,354.9 959.6,358.9 959.7,356.8 960.0,353.4 960.3,357.1 960.7,352.4 961.0,355.7 961.4,350.5 961.7,355.3 962.0,353.2 962.1,350.5 962.4,357.7 962.8,355.0 963.1,358.5 963.5,360.1 963.7,361.0 963.8,360.4 964.2,359.1 964.5,357.7 964.6,357.5"/>
</g>
<g stroke="#333333" stroke-width="1.9">
<line x1="119.0" x2="123.9" y1="537.55" y2="537.55"/>
<line x1="119.0" x2="123.9" y1="400.93" y2="400.93"/>
<line x1="119.0" x2="123.9" y1="264.32" y2="264.32"/>
<line x1="119.0" x2="123.9" y1="127.70" y2="127.70"/>
<line y1="557.3" y2="562.2" x1="270.30" x2="270.30"/>
<line y1="557.3" y2="562.2" x1="426.73" x2="426.73"/>
<line y1="557.3" y2="562.2" x1="582.95" x2="582.95"/>
<line y1="557.3" y2="562.2" x1="739.39" x2="739.39"/>
<line y1="557.3" y2="562.2" x1="895.61" x2="895.61"/>
</g>
<g font-size="15.1" fill="#4d4d4d">
<text x="115.1" y="543.0" text-anchor="end" textLength="61.6" lengthAdjust="spacingAndGlyphs">0 Gbit/s</text>
<text x="115.1" y="406.0" text-anchor="end" textLength="81.7" lengthAdjust="spacingAndGlyphs">200 Gbit/s</text>
<text x="115.1" y="270.0" text-anchor="end" textLength="81.7" lengthAdjust="spacingAndGlyphs">400 Gbit/s</text>
<text x="115.1" y="133.0" text-anchor="end" textLength="81.7" lengthAdjust="spacingAndGlyphs">600 Gbit/s</text>
<text x="270.3" y="577" text-anchor="middle" textLength="40.2" lengthAdjust="spacingAndGlyphs">2012</text>
<text x="426.7" y="577" text-anchor="middle" textLength="40.2" lengthAdjust="spacingAndGlyphs">2014</text>
<text x="583.0" y="577" text-anchor="middle" textLength="40.2" lengthAdjust="spacingAndGlyphs">2016</text>
<text x="739.4" y="577" text-anchor="middle" textLength="40.2" lengthAdjust="spacingAndGlyphs">2018</text>
<text x="895.6" y="577" text-anchor="middle" textLength="40.2" lengthAdjust="spacingAndGlyphs">2020</text>
</g>
<text x="1003.9" y="626" font-size="15.1" text-anchor="end" textLength="365.8" lengthAdjust="spacingAndGlyphs" fill="#000">The Tor Project - https://metrics.torproject.org/</text>
</svg></body></html>
